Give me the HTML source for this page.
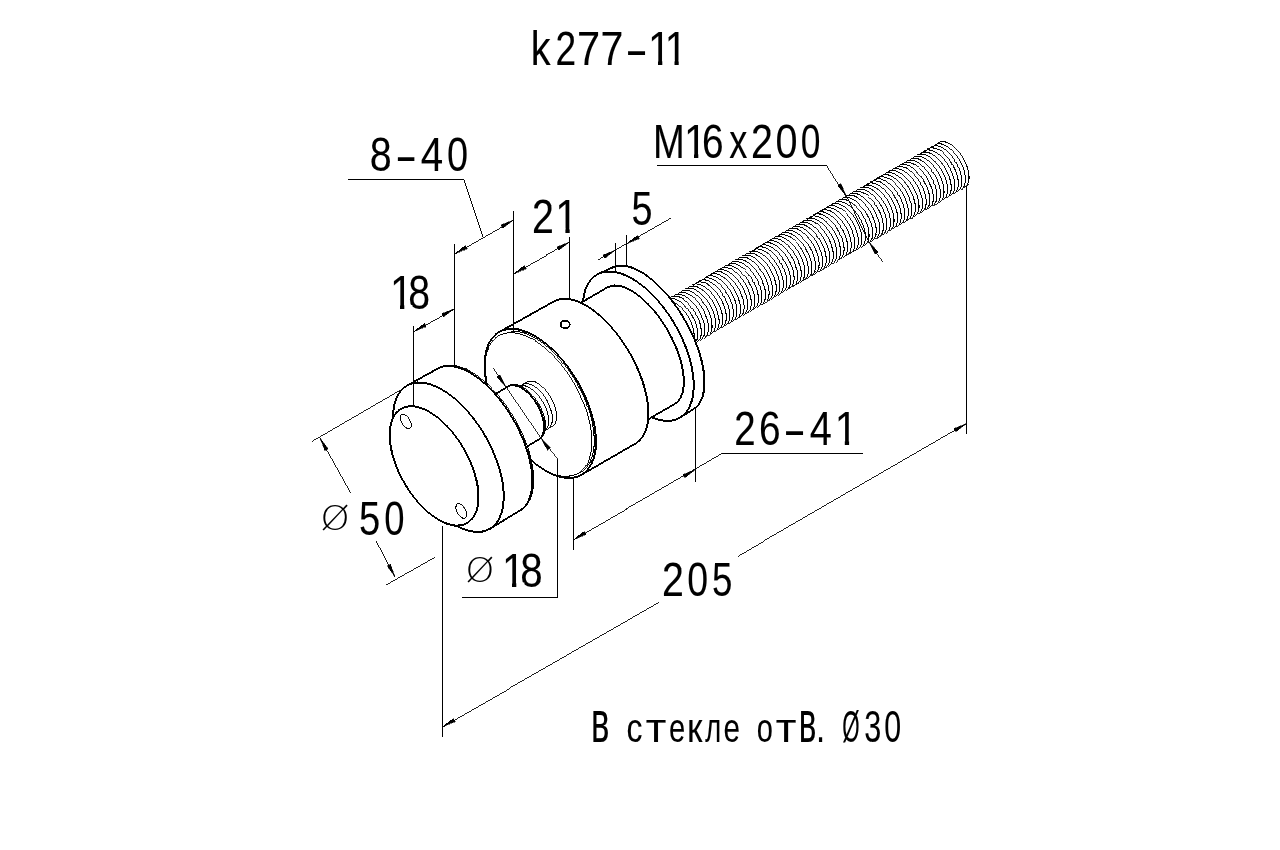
<!DOCTYPE html>
<html lang="ru"><head><meta charset="utf-8"><title>k277-11</title>
<style>
html,body{margin:0;padding:0;background:#fff;}
body{width:1280px;height:850px;overflow:hidden;}
svg{display:block;}
.g path,.g ellipse{shape-rendering:crispEdges;}
text{font-family:"Liberation Sans",sans-serif;fill:#000;stroke:#000;stroke-width:0.1px;white-space:pre;}
.b{font-weight:bold;stroke-width:0;}
.dia{font-family:"DejaVu Sans","Liberation Sans",sans-serif;font-weight:200;stroke:none;}
</style></head>
<body>
<svg width="1280" height="850" viewBox="0 0 1280 850">
<rect width="1280" height="850" fill="#fff"/>
<g class="g" fill="none" stroke="#000" stroke-linecap="butt" stroke-linejoin="miter">
<path d="M665.3 360.5 L964.6 187.5 L965.7 186.7 L966.7 185.6 L967.5 184.3 L968.2 182.8 L968.6 181.1 L968.9 179.2 L969.0 177.2 L968.9 175.1 L968.6 172.8 L968.2 170.4 L967.5 168.0 L966.7 165.6 L965.7 163.1 L964.6 160.7 L963.3 158.3 L961.8 156.0 L960.3 153.8 L958.7 151.7 L957.0 149.8 L955.2 148.0 L953.4 146.4 L951.6 145.0 L949.8 143.9 L948.0 142.9 L946.2 142.3 L944.5 141.8 L942.9 141.6 L941.4 141.7 L939.9 142.0 L938.6 142.6 L639.3 315.4Z" fill="#fff" stroke="none" stroke-width="0" />
<path d="M956.9 149.7 954.2 147.0 M953.4 151.7 950.6 149.1 M949.8 153.8 947.0 151.1 M946.2 155.9 943.4 153.2 M942.6 157.9 939.9 155.2 M939.1 160.0 936.3 157.3 M935.5 162.0 932.7 159.4 M931.9 164.1 929.2 161.4 M928.4 166.2 925.6 163.5 M924.8 168.2 922.0 165.6 M921.2 170.3 918.5 167.6 M917.7 172.4 914.9 169.7 M914.1 174.4 911.3 171.7 M910.5 176.5 907.7 173.8 M906.9 178.5 904.2 175.9 M903.4 180.6 900.6 177.9 M899.8 182.7 897.0 180.0 M896.2 184.7 893.5 182.1 M892.7 186.8 889.9 184.1 M889.1 188.9 886.3 186.2 M885.5 190.9 882.8 188.2 M882.0 193.0 879.2 190.3 M878.4 195.0 875.6 192.4 M874.8 197.1 872.0 194.4 M871.2 199.2 868.5 196.5 M867.7 201.2 864.9 198.6 M864.1 203.3 861.3 200.6 M860.5 205.4 857.8 202.7 M857.0 207.4 854.2 204.7 M853.4 209.5 850.6 206.8 M849.8 211.5 847.1 208.9 M846.3 213.6 843.5 210.9 M842.7 215.7 839.9 213.0 M839.1 217.7 836.3 215.1 M835.5 219.8 832.8 217.1 M832.0 221.9 829.2 219.2 M828.4 223.9 825.6 221.2 M824.8 226.0 822.1 223.3 M821.3 228.0 818.5 225.4 M817.7 230.1 814.9 227.4 M814.1 232.2 811.4 229.5 M810.6 234.2 807.8 231.6 M807.0 236.3 804.2 233.6 M803.4 238.4 800.6 235.7 M799.8 240.4 797.1 237.7 M796.3 242.5 793.5 239.8 M792.7 244.5 789.9 241.9 M789.1 246.6 786.4 243.9 M785.6 248.7 782.8 246.0 M782.0 250.7 779.2 248.1 M778.4 252.8 775.7 250.1 M774.9 254.8 772.1 252.2 M771.3 256.9 768.5 254.2 M767.7 259.0 764.9 256.3 M764.1 261.0 761.4 258.4 M760.6 263.1 757.8 260.4 M757.0 265.2 754.2 262.5 M753.4 267.2 750.7 264.6 M749.9 269.3 747.1 266.6 M746.3 271.3 743.5 268.7 M742.7 273.4 740.0 270.7 M739.2 275.5 736.4 272.8 M735.6 277.5 732.8 274.9 M732.0 279.6 729.2 276.9 M728.4 281.7 725.7 279.0 M724.9 283.7 722.1 281.1 M721.3 285.8 718.5 283.1 M717.7 287.8 715.0 285.2 M714.2 289.9 711.4 287.2 M710.6 292.0 707.8 289.3 M707.0 294.0 704.3 291.4 M703.5 296.1 700.7 293.4 M699.9 298.2 697.1 295.5 M696.3 300.2 693.5 297.6 M692.7 302.3 690.0 299.6 M689.2 304.3 686.4 301.7 M685.6 306.4 682.8 303.7 M682.0 308.5 679.3 305.8 M678.5 310.5 675.7 307.9" stroke-width="0.74"/>
<path d="M965.4 187.0 967.2 185.0 M958.7 151.7 956.1 148.8 M961.8 189.1 963.7 187.0 M955.2 153.8 952.5 150.9 M958.2 191.2 960.1 189.1 M951.6 155.9 948.9 152.9 M954.7 193.2 956.5 191.2 M948.0 157.9 945.4 155.0 M951.1 195.3 952.9 193.2 M944.5 160.0 941.8 157.1 M947.5 197.3 949.4 195.3 M940.9 162.0 938.2 159.1 M944.0 199.4 945.8 197.3 M937.3 164.1 934.7 161.2 M940.4 201.5 942.2 199.4 M933.7 166.2 931.1 163.2 M936.8 203.5 938.7 201.5 M930.2 168.2 927.5 165.3 M933.2 205.6 935.1 203.5 M926.6 170.3 924.0 167.4 M929.7 207.7 931.5 205.6 M923.0 172.4 920.4 169.4 M926.1 209.7 928.0 207.7 M919.5 174.4 916.8 171.5 M922.5 211.8 924.4 209.7 M915.9 176.5 913.2 173.6 M919.0 213.8 920.8 211.8 M912.3 178.5 909.7 175.6 M915.4 215.9 917.2 213.8 M908.8 180.6 906.1 177.7 M911.8 218.0 913.7 215.9 M905.2 182.7 902.5 179.7 M908.3 220.0 910.1 218.0 M901.6 184.7 899.0 181.8 M904.7 222.1 906.5 220.0 M898.0 186.8 895.4 183.9 M901.1 224.2 903.0 222.1 M894.5 188.9 891.8 185.9 M897.5 226.2 899.4 224.2 M890.9 190.9 888.3 188.0 M894.0 228.3 895.8 226.2 M887.3 193.0 884.7 190.1 M890.4 230.3 892.3 228.3 M883.8 195.0 881.1 192.1 M886.8 232.4 888.7 230.3 M880.2 197.1 877.5 194.2 M883.3 234.5 885.1 232.4 M876.6 199.2 874.0 196.2 M879.7 236.5 881.5 234.5 M873.1 201.2 870.4 198.3 M876.1 238.6 878.0 236.5 M869.5 203.3 866.8 200.4 M872.6 240.7 874.4 238.6 M865.9 205.4 863.3 202.4 M869.0 242.7 870.8 240.7 M862.3 207.4 859.7 204.5 M865.4 244.8 867.3 242.7 M858.8 209.5 856.1 206.6 M861.8 246.8 863.7 244.8 M855.2 211.5 852.6 208.6 M858.3 248.9 860.1 246.8 M851.6 213.6 849.0 210.7 M854.7 251.0 856.6 248.9 M848.1 215.7 845.4 212.7 M851.1 253.0 853.0 251.0 M844.5 217.7 841.8 214.8 M847.6 255.1 849.4 253.0 M840.9 219.8 838.3 216.9 M844.0 257.2 845.8 255.1 M837.4 221.9 834.7 218.9 M840.4 259.2 842.3 257.2 M833.8 223.9 831.1 221.0 M836.9 261.3 838.7 259.2 M830.2 226.0 827.6 223.1 M833.3 263.3 835.1 261.3 M826.6 228.0 824.0 225.1 M829.7 265.4 831.6 263.3 M823.1 230.1 820.4 227.2 M826.1 267.5 828.0 265.4 M819.5 232.2 816.9 229.2 M822.6 269.5 824.4 267.5 M815.9 234.2 813.3 231.3 M819.0 271.6 820.9 269.5 M812.4 236.3 809.7 233.4 M815.4 273.7 817.3 271.6 M808.8 238.4 806.1 235.4 M811.9 275.7 813.7 273.7 M805.2 240.4 802.6 237.5 M808.3 277.8 810.1 275.7 M801.7 242.5 799.0 239.6 M804.7 279.8 806.6 277.8 M798.1 244.5 795.4 241.6 M801.2 281.9 803.0 279.8 M794.5 246.6 791.9 243.7 M797.6 284.0 799.4 281.9 M790.9 248.7 788.3 245.7 M794.0 286.0 795.9 284.0 M787.4 250.7 784.7 247.8 M790.4 288.1 792.3 286.0 M783.8 252.8 781.2 249.9 M786.9 290.2 788.7 288.1 M780.2 254.8 777.6 251.9 M783.3 292.2 785.2 290.2 M776.7 256.9 774.0 254.0 M779.7 294.3 781.6 292.2 M773.1 259.0 770.4 256.1 M776.2 296.3 778.0 294.3 M769.5 261.0 766.9 258.1 M772.6 298.4 774.4 296.3 M766.0 263.1 763.3 260.2 M769.0 300.5 770.9 298.4 M762.4 265.2 759.7 262.2 M765.5 302.5 767.3 300.5 M758.8 267.2 756.2 264.3 M761.9 304.6 763.7 302.5 M755.2 269.3 752.6 266.4 M758.3 306.7 760.2 304.6 M751.7 271.3 749.0 268.4 M754.7 308.7 756.6 306.7 M748.1 273.4 745.5 270.5 M751.2 310.8 753.0 308.7 M744.5 275.5 741.9 272.5 M747.6 312.8 749.5 310.8 M741.0 277.5 738.3 274.6 M744.0 314.9 745.9 312.8 M737.4 279.6 734.7 276.7 M740.5 317.0 742.3 314.9 M733.8 281.7 731.2 278.7 M736.9 319.0 738.7 317.0 M730.3 283.7 727.6 280.8 M733.3 321.1 735.2 319.0 M726.7 285.8 724.0 282.9 M729.8 323.1 731.6 321.1 M723.1 287.8 720.5 284.9 M726.2 325.2 728.0 323.2 M719.5 289.9 716.9 287.0 M722.6 327.3 724.5 325.2 M716.0 292.0 713.3 289.0 M719.0 329.3 720.9 327.3 M712.4 294.0 709.8 291.1 M715.5 331.4 717.3 329.3 M708.8 296.1 706.2 293.2 M711.9 333.5 713.8 331.4 M705.3 298.2 702.6 295.2 M708.3 335.5 710.2 333.5 M701.7 300.2 699.0 297.3 M704.8 337.6 706.6 335.5 M698.1 302.3 695.5 299.4 M701.2 339.6 703.0 337.6 M694.6 304.3 691.9 301.4 M697.6 341.7 699.5 339.7 M691.0 306.4 688.3 303.5 M694.1 343.8 695.9 341.7 M687.4 308.5 684.8 305.5 M690.5 345.8 692.3 343.8 M683.8 310.5 681.2 307.6 M686.9 347.9 688.8 345.8 M680.3 312.6 677.6 309.7" stroke-width="0.76"/>
<path d="M955.0 147.8 952.2 145.4 M951.5 149.9 948.6 147.5 M947.9 151.9 945.0 149.5 M944.3 154.0 941.5 151.6 M940.8 156.0 937.9 153.7 M937.2 158.1 934.3 155.7 M933.6 160.2 930.8 157.8 M930.1 162.2 927.2 159.9 M926.5 164.3 923.6 161.9 M922.9 166.4 920.1 164.0 M919.3 168.4 916.5 166.0 M915.8 170.5 912.9 168.1 M912.2 172.5 909.3 170.2 M908.6 174.6 905.8 172.2 M905.1 176.7 902.2 174.3 M901.5 178.7 898.6 176.4 M897.9 180.8 895.1 178.4 M894.4 182.9 891.5 180.5 M890.8 184.9 887.9 182.5 M887.2 187.0 884.4 184.6 M883.6 189.0 880.8 186.7 M880.1 191.1 877.2 188.7 M876.5 193.2 873.6 190.8 M872.9 195.2 870.1 192.9 M869.4 197.3 866.5 194.9 M865.8 199.4 862.9 197.0 M862.2 201.4 859.4 199.0 M858.7 203.5 855.8 201.1 M855.1 205.5 852.2 203.2 M851.5 207.6 848.7 205.2 M847.9 209.7 845.1 207.3 M844.4 211.7 841.5 209.4 M840.8 213.8 837.9 211.4 M837.2 215.9 834.4 213.5 M833.7 217.9 830.8 215.5 M830.1 220.0 827.2 217.6 M826.5 222.0 823.7 219.7 M823.0 224.1 820.1 221.7 M819.4 226.2 816.5 223.8 M815.8 228.2 813.0 225.8 M812.2 230.3 809.4 227.9 M808.7 232.4 805.8 230.0 M805.1 234.4 802.2 232.0 M801.5 236.5 798.7 234.1 M798.0 238.5 795.1 236.2 M794.4 240.6 791.5 238.2 M790.8 242.7 788.0 240.3 M787.3 244.7 784.4 242.3 M783.7 246.8 780.8 244.4 M780.1 248.9 777.3 246.5 M776.5 250.9 773.7 248.5 M773.0 253.0 770.1 250.6 M769.4 255.0 766.5 252.7 M765.8 257.1 763.0 254.7 M762.3 259.2 759.4 256.8 M758.7 261.2 755.8 258.8 M755.1 263.3 752.3 260.9 M751.6 265.4 748.7 263.0 M748.0 267.4 745.1 265.0 M744.4 269.5 741.6 267.1 M740.8 271.5 738.0 269.2 M737.3 273.6 734.4 271.2 M733.7 275.7 730.8 273.3 M730.1 277.7 727.3 275.3 M726.6 279.8 723.7 277.4 M723.0 281.9 720.1 279.5 M719.4 283.9 716.6 281.5 M715.9 286.0 713.0 283.6 M712.3 288.0 709.4 285.7 M708.7 290.1 705.9 287.7 M705.1 292.2 702.3 289.8 M701.6 294.2 698.7 291.8 M698.0 296.3 695.1 293.9 M694.4 298.4 691.6 296.0 M690.9 300.4 688.0 298.0 M687.3 302.5 684.4 300.1 M683.7 304.5 680.9 302.2 M680.2 306.6 677.3 304.2 M676.6 308.7 673.7 306.3" stroke-width="0.79"/>
<path d="M960.5 154.0 958.0 150.8 M956.9 156.0 954.4 152.9 M953.3 158.1 950.8 154.9 M949.8 160.2 947.2 157.0 M946.2 162.2 943.7 159.1 M942.6 164.3 940.1 161.1 M939.0 166.3 936.5 163.2 M935.5 168.4 933.0 165.3 M931.9 170.5 929.4 167.3 M928.3 172.5 925.8 169.4 M924.8 174.6 922.3 171.4 M921.2 176.6 918.7 173.5 M917.6 178.7 915.1 175.6 M914.1 180.8 911.5 177.6 M910.5 182.8 908.0 179.7 M906.9 184.9 904.4 181.8 M903.3 187.0 900.8 183.8 M899.8 189.0 897.3 185.9 M896.2 191.1 893.7 187.9 M892.6 193.1 890.1 190.0 M889.1 195.2 886.6 192.1 M885.5 197.3 883.0 194.1 M881.9 199.3 879.4 196.2 M878.4 201.4 875.8 198.3 M874.8 203.5 872.3 200.3 M871.2 205.5 868.7 202.4 M867.6 207.6 865.1 204.4 M864.1 209.6 861.6 206.5 M860.5 211.7 858.0 208.6 M856.9 213.8 854.4 210.6 M853.4 215.8 850.9 212.7 M849.8 217.9 847.3 214.8 M846.2 220.0 843.7 216.8 M842.7 222.0 840.1 218.9 M839.1 224.1 836.6 220.9 M835.5 226.1 833.0 223.0 M831.9 228.2 829.4 225.1 M828.4 230.3 825.9 227.1 M824.8 232.3 822.3 229.2 M821.2 234.4 818.7 231.2 M817.7 236.5 815.2 233.3 M814.1 238.5 811.6 235.4 M810.5 240.6 808.0 237.4 M807.0 242.6 804.4 239.5 M803.4 244.7 800.9 241.6 M799.8 246.8 797.3 243.6 M796.2 248.8 793.7 245.7 M792.7 250.9 790.2 247.7 M789.1 253.0 786.6 249.8 M785.5 255.0 783.0 251.9 M782.0 257.1 779.5 253.9 M778.4 259.1 775.9 256.0 M774.8 261.2 772.3 258.1 M771.3 263.3 768.7 260.1 M767.7 265.3 765.2 262.2 M764.1 267.4 761.6 264.2 M760.5 269.5 758.0 266.3 M757.0 271.5 754.5 268.4 M753.4 273.6 750.9 270.4 M749.8 275.6 747.3 272.5 M746.3 277.7 743.8 274.6 M742.7 279.8 740.2 276.6 M739.1 281.8 736.6 278.7 M735.6 283.9 733.0 280.7 M732.0 286.0 729.5 282.8 M728.4 288.0 725.9 284.9 M724.8 290.1 722.3 286.9 M721.3 292.1 718.8 289.0 M717.7 294.2 715.2 291.1 M714.1 296.3 711.6 293.1 M710.6 298.3 708.1 295.2 M707.0 300.4 704.5 297.2 M703.4 302.5 700.9 299.3 M699.9 304.5 697.3 301.4 M696.3 306.6 693.8 303.4 M692.7 308.6 690.2 305.5 M689.1 310.7 686.6 307.6 M685.6 312.8 683.1 309.6 M682.0 314.8 679.5 311.7" stroke-width="0.8"/>
<path d="M964.1 187.8 966.3 186.2 M960.5 189.9 962.7 188.3 M956.9 192.0 959.1 190.4 M953.4 194.0 955.5 192.4 M949.8 196.1 952.0 194.5 M946.2 198.1 948.4 196.5 M942.6 200.2 944.8 198.6 M939.1 202.3 941.3 200.7 M935.5 204.3 937.7 202.7 M931.9 206.4 934.1 204.8 M928.4 208.5 930.6 206.9 M924.8 210.5 927.0 208.9 M921.2 212.6 923.4 211.0 M917.7 214.6 919.8 213.0 M914.1 216.7 916.3 215.1 M910.5 218.8 912.7 217.2 M906.9 220.8 909.1 219.2 M903.4 222.9 905.6 221.3 M899.8 225.0 902.0 223.4 M896.2 227.0 898.4 225.4 M892.7 229.1 894.9 227.5 M889.1 231.1 891.3 229.5 M885.5 233.2 887.7 231.6 M882.0 235.3 884.1 233.7 M878.4 237.3 880.6 235.7 M874.8 239.4 877.0 237.8 M871.2 241.5 873.4 239.9 M867.7 243.5 869.9 241.9 M864.1 245.6 866.3 244.0 M860.5 247.6 862.7 246.0 M857.0 249.7 859.2 248.1 M853.4 251.8 855.6 250.2 M849.8 253.8 852.0 252.2 M846.3 255.9 848.4 254.3 M842.7 258.0 844.9 256.4 M839.1 260.0 841.3 258.4 M835.5 262.1 837.7 260.5 M832.0 264.1 834.2 262.5 M828.4 266.2 830.6 264.6 M824.8 268.3 827.0 266.7 M821.3 270.3 823.5 268.7 M817.7 272.4 819.9 270.8 M814.1 274.5 816.3 272.9 M810.6 276.5 812.7 274.9 M807.0 278.6 809.2 277.0 M803.4 280.6 805.6 279.0 M799.8 282.7 802.0 281.1 M796.3 284.8 798.5 283.2 M792.7 286.8 794.9 285.2 M789.1 288.9 791.3 287.3 M785.6 291.0 787.8 289.4 M782.0 293.0 784.2 291.4 M778.4 295.1 780.6 293.5 M774.9 297.1 777.0 295.5 M771.3 299.2 773.5 297.6 M767.7 301.3 769.9 299.7 M764.1 303.3 766.3 301.7 M760.6 305.4 762.8 303.8 M757.0 307.5 759.2 305.8 M753.4 309.5 755.6 307.9 M749.9 311.6 752.1 310.0 M746.3 313.6 748.5 312.0 M742.7 315.7 744.9 314.1 M739.2 317.8 741.3 316.2 M735.6 319.8 737.8 318.2 M732.0 321.9 734.2 320.3 M728.4 324.0 730.6 322.3 M724.9 326.0 727.1 324.4 M721.3 328.1 723.5 326.5 M717.7 330.1 719.9 328.5 M714.2 332.2 716.4 330.6 M710.6 334.3 712.8 332.7 M707.0 336.3 709.2 334.7 M703.5 338.4 705.6 336.8 M699.9 340.5 702.1 338.8 M696.3 342.5 698.5 340.9 M692.7 344.6 694.9 343.0 M689.2 346.6 691.4 345.0 M685.6 348.7 687.8 347.1" stroke-width="0.83"/>
<path d="M962.1 156.3 959.7 153.0 M953.1 146.1 950.2 144.1 M958.5 158.4 956.2 155.1 M949.6 148.2 946.6 146.1 M954.9 160.5 952.6 157.1 M946.0 150.3 943.1 148.2 M951.4 162.5 949.0 159.2 M942.4 152.3 939.5 150.3 M947.8 164.6 945.5 161.3 M938.9 154.4 935.9 152.3 M944.2 166.7 941.9 163.3 M935.3 156.5 932.3 154.4 M940.7 168.7 938.3 165.4 M931.7 158.5 928.8 156.5 M937.1 170.8 934.8 167.4 M928.1 160.6 925.2 158.5 M933.5 172.8 931.2 169.5 M924.6 162.6 921.6 160.6 M930.0 174.9 927.6 171.6 M921.0 164.7 918.1 162.6 M926.4 177.0 924.0 173.6 M917.4 166.8 914.5 164.7 M922.8 179.0 920.5 175.7 M913.9 168.8 910.9 166.8 M919.2 181.1 916.9 177.8 M910.3 170.9 907.4 168.8 M915.7 183.1 913.3 179.8 M906.7 173.0 903.8 170.9 M912.1 185.2 909.8 181.9 M903.2 175.0 900.2 173.0 M908.5 187.3 906.2 183.9 M899.6 177.1 896.6 175.0 M905.0 189.3 902.6 186.0 M896.0 179.1 893.1 177.1 M901.4 191.4 899.1 188.1 M892.4 181.2 889.5 179.1 M897.8 193.5 895.5 190.1 M888.9 183.3 885.9 181.2 M894.3 195.5 891.9 192.2 M885.3 185.3 882.4 183.3 M890.7 197.6 888.3 194.3 M881.7 187.4 878.8 185.3 M887.1 199.6 884.8 196.3 M878.2 189.5 875.2 187.4 M883.5 201.7 881.2 198.4 M874.6 191.5 871.7 189.5 M880.0 203.8 877.6 200.4 M871.0 193.6 868.1 191.5 M876.4 205.8 874.1 202.5 M867.5 195.6 864.5 193.6 M872.8 207.9 870.5 204.6 M863.9 197.7 860.9 195.6 M869.3 210.0 866.9 206.6 M860.3 199.8 857.4 197.7 M865.7 212.0 863.4 208.7 M856.7 201.8 853.8 199.8 M862.1 214.1 859.8 210.7 M853.2 203.9 850.2 201.8 M858.6 216.1 856.2 212.8 M849.6 206.0 846.7 203.9 M855.0 218.2 852.6 214.9 M846.0 208.0 843.1 206.0 M851.4 220.3 849.1 216.9 M842.5 210.1 839.5 208.0 M847.8 222.3 845.5 219.0 M838.9 212.1 836.0 210.1 M844.3 224.4 841.9 221.1 M835.3 214.2 832.4 212.1 M840.7 226.5 838.4 223.1 M831.8 216.3 828.8 214.2 M837.1 228.5 834.8 225.2 M828.2 218.3 825.2 216.3 M833.6 230.6 831.2 227.2 M824.6 220.4 821.7 218.3 M830.0 232.6 827.7 229.3 M821.0 222.5 818.1 220.4 M826.4 234.7 824.1 231.4 M817.5 224.5 814.5 222.5 M822.9 236.8 820.5 233.4 M813.9 226.6 811.0 224.5 M819.3 238.8 816.9 235.5 M810.3 228.6 807.4 226.6 M815.7 240.9 813.4 237.6 M806.8 230.7 803.8 228.6 M812.1 243.0 809.8 239.6 M803.2 232.8 800.3 230.7 M808.6 245.0 806.2 241.7 M799.6 234.8 796.7 232.8 M805.0 247.1 802.7 243.7 M796.1 236.9 793.1 234.8 M801.4 249.1 799.1 245.8 M792.5 239.0 789.5 236.9 M797.9 251.2 795.5 247.9 M788.9 241.0 786.0 239.0 M794.3 253.3 792.0 249.9 M785.3 243.1 782.4 241.0 M790.7 255.3 788.4 252.0 M781.8 245.1 778.8 243.1 M787.2 257.4 784.8 254.1 M778.2 247.2 775.3 245.1 M783.6 259.5 781.2 256.1 M774.6 249.3 771.7 247.2 M780.0 261.5 777.7 258.2 M771.1 251.3 768.1 249.3 M776.4 263.6 774.1 260.2 M767.5 253.4 764.6 251.3 M772.9 265.6 770.5 262.3 M763.9 255.5 761.0 253.4 M769.3 267.7 767.0 264.4 M760.4 257.5 757.4 255.5 M765.7 269.8 763.4 266.4 M756.8 259.6 753.8 257.5 M762.2 271.8 759.8 268.5 M753.2 261.6 750.3 259.6 M758.6 273.9 756.3 270.6 M749.6 263.7 746.7 261.6 M755.0 276.0 752.7 272.6 M746.1 265.8 743.1 263.7 M751.5 278.0 749.1 274.7 M742.5 267.8 739.6 265.8 M747.9 280.1 745.5 276.7 M738.9 269.9 736.0 267.8 M744.3 282.1 742.0 278.8 M735.4 272.0 732.4 269.9 M740.7 284.2 738.4 280.9 M731.8 274.0 728.9 272.0 M737.2 286.3 734.8 282.9 M728.2 276.1 725.3 274.0 M733.6 288.3 731.3 285.0 M724.7 278.1 721.7 276.1 M730.0 290.4 727.7 287.1 M721.1 280.2 718.1 278.1 M726.5 292.5 724.1 289.1 M717.5 282.3 714.6 280.2 M722.9 294.5 720.6 291.2 M713.9 284.3 711.0 282.3 M719.3 296.6 717.0 293.2 M710.4 286.4 707.4 284.3 M715.8 298.6 713.4 295.3 M706.8 288.4 703.9 286.4 M712.2 300.7 709.8 297.4 M703.2 290.5 700.3 288.5 M708.6 302.8 706.3 299.4 M699.7 292.6 696.7 290.5 M705.0 304.8 702.7 301.5 M696.1 294.6 693.2 292.6 M701.5 306.9 699.1 303.6 M692.5 296.7 689.6 294.6 M697.9 309.0 695.6 305.6 M689.0 298.8 686.0 296.7 M694.3 311.0 692.0 307.7 M685.4 300.8 682.4 298.8 M690.8 313.1 688.4 309.7 M681.8 302.9 678.9 300.8 M687.2 315.1 684.9 311.8 M678.2 304.9 675.3 302.9 M683.6 317.2 681.3 313.9 M674.7 307.0 671.7 304.9" stroke-width="0.84"/>
<path d="M963.6 158.8 961.4 155.3 M960.0 160.9 957.9 157.4 M956.4 163.0 954.3 159.5 M952.9 165.0 950.7 161.5 M949.3 167.1 947.1 163.6 M945.7 169.1 943.6 165.6 M942.2 171.2 940.0 167.7 M938.6 173.3 936.4 169.8 M935.0 175.3 932.9 171.8 M931.4 177.4 929.3 173.9 M927.9 179.5 925.7 176.0 M924.3 181.5 922.2 178.0 M920.7 183.6 918.6 180.1 M917.2 185.6 915.0 182.1 M913.6 187.7 911.4 184.2 M910.0 189.8 907.9 186.3 M906.5 191.8 904.3 188.3 M902.9 193.9 900.7 190.4 M899.3 195.9 897.2 192.5 M895.7 198.0 893.6 194.5 M892.2 200.1 890.0 196.6 M888.6 202.1 886.5 198.6 M885.0 204.2 882.9 200.7 M881.5 206.3 879.3 202.8 M877.9 208.3 875.7 204.8 M874.3 210.4 872.2 206.9 M870.8 212.4 868.6 209.0 M867.2 214.5 865.0 211.0 M863.6 216.6 861.5 213.1 M860.0 218.6 857.9 215.1 M856.5 220.7 854.3 217.2 M852.9 222.8 850.8 219.3 M849.3 224.8 847.2 221.3 M845.8 226.9 843.6 223.4 M842.2 228.9 840.0 225.5 M838.6 231.0 836.5 227.5 M835.1 233.1 832.9 229.6 M831.5 235.1 829.3 231.6 M827.9 237.2 825.8 233.7 M824.3 239.3 822.2 235.8 M820.8 241.3 818.6 237.8 M817.2 243.4 815.1 239.9 M813.6 245.4 811.5 242.0 M810.1 247.5 807.9 244.0 M806.5 249.6 804.3 246.1 M802.9 251.6 800.8 248.1 M799.4 253.7 797.2 250.2 M795.8 255.8 793.6 252.3 M792.2 257.8 790.1 254.3 M788.6 259.9 786.5 256.4 M785.1 261.9 782.9 258.5 M781.5 264.0 779.4 260.5 M777.9 266.1 775.8 262.6 M774.4 268.1 772.2 264.6 M770.8 270.2 768.6 266.7 M767.2 272.3 765.1 268.8 M763.7 274.3 761.5 270.8 M760.1 276.4 757.9 272.9 M756.5 278.4 754.4 275.0 M752.9 280.5 750.8 277.0 M749.4 282.6 747.2 279.1 M745.8 284.6 743.7 281.1 M742.2 286.7 740.1 283.2 M738.7 288.8 736.5 285.3 M735.1 290.8 732.9 287.3 M731.5 292.9 729.4 289.4 M728.0 294.9 725.8 291.5 M724.4 297.0 722.2 293.5 M720.8 299.1 718.7 295.6 M717.2 301.1 715.1 297.6 M713.7 303.2 711.5 299.7 M710.1 305.3 708.0 301.8 M706.5 307.3 704.4 303.8 M703.0 309.4 700.8 305.9 M699.4 311.4 697.2 308.0 M695.8 313.5 693.7 310.0 M692.3 315.6 690.1 312.1 M688.7 317.6 686.5 314.1 M685.1 319.7 683.0 316.2" stroke-width="0.87"/>
<path d="M966.5 185.9 968.0 183.5 M962.9 188.0 964.4 185.5 M959.4 190.1 960.8 187.6 M955.8 192.1 957.3 189.7 M952.2 194.2 953.7 191.7 M948.7 196.2 950.1 193.8 M945.1 198.3 946.6 195.9 M941.5 200.4 943.0 197.9 M938.0 202.4 939.4 200.0 M934.4 204.5 935.9 202.0 M930.8 206.6 932.3 204.1 M927.2 208.6 928.7 206.2 M923.7 210.7 925.1 208.2 M920.1 212.7 921.6 210.3 M916.5 214.8 918.0 212.4 M913.0 216.9 914.4 214.4 M909.4 218.9 910.9 216.5 M905.8 221.0 907.3 218.5 M902.3 223.1 903.7 220.6 M898.7 225.1 900.2 222.7 M895.1 227.2 896.6 224.7 M891.5 229.2 893.0 226.8 M888.0 231.3 889.4 228.9 M884.4 233.4 885.9 230.9 M880.8 235.4 882.3 233.0 M877.3 237.5 878.7 235.0 M873.7 239.6 875.2 237.1 M870.1 241.6 871.6 239.2 M866.6 243.7 868.0 241.2 M863.0 245.7 864.5 243.3 M859.4 247.8 860.9 245.4 M855.8 249.9 857.3 247.4 M852.3 251.9 853.7 249.5 M848.7 254.0 850.2 251.5 M845.1 256.1 846.6 253.6 M841.6 258.1 843.0 255.7 M838.0 260.2 839.5 257.7 M834.4 262.2 835.9 259.8 M830.9 264.3 832.3 261.9 M827.3 266.4 828.8 263.9 M823.7 268.4 825.2 266.0 M820.1 270.5 821.6 268.0 M816.6 272.6 818.0 270.1 M813.0 274.6 814.5 272.2 M809.4 276.7 810.9 274.2 M805.9 278.7 807.3 276.3 M802.3 280.8 803.8 278.4 M798.7 282.9 800.2 280.4 M795.2 284.9 796.6 282.5 M791.6 287.0 793.1 284.5 M788.0 289.1 789.5 286.6 M784.4 291.1 785.9 288.7 M780.9 293.2 782.3 290.7 M777.3 295.2 778.8 292.8 M773.7 297.3 775.2 294.9 M770.2 299.4 771.6 296.9 M766.6 301.4 768.1 299.0 M763.0 303.5 764.5 301.0 M759.5 305.6 760.9 303.1 M755.9 307.6 757.4 305.2 M752.3 309.7 753.8 307.2 M748.7 311.7 750.2 309.3 M745.2 313.8 746.6 311.4 M741.6 315.9 743.1 313.4 M738.0 317.9 739.5 315.5 M734.5 320.0 735.9 317.5 M730.9 322.1 732.4 319.6 M727.3 324.1 728.8 321.7 M723.8 326.2 725.2 323.7 M720.2 328.2 721.7 325.8 M716.6 330.3 718.1 327.9 M713.0 332.4 714.5 329.9 M709.5 334.4 710.9 332.0 M705.9 336.5 707.4 334.0 M702.3 338.6 703.8 336.1 M698.8 340.6 700.2 338.2 M695.2 342.7 696.7 340.2 M691.6 344.7 693.1 342.3 M688.1 346.8 689.5 344.3" stroke-width="0.88"/>
<path d="M951.2 144.7 948.2 143.0 M947.6 146.8 944.7 145.1 M944.1 148.9 941.1 147.1 M940.5 150.9 937.5 149.2 M936.9 153.0 933.9 151.3 M933.4 155.0 930.4 153.3 M929.8 157.1 926.8 155.4 M926.2 159.2 923.2 157.5 M922.7 161.2 919.7 159.5 M919.1 163.3 916.1 161.6 M915.5 165.4 912.5 163.6 M911.9 167.4 909.0 165.7 M908.4 169.5 905.4 167.8 M904.8 171.5 901.8 169.8 M901.2 173.6 898.2 171.9 M897.7 175.7 894.7 174.0 M894.1 177.7 891.1 176.0 M890.5 179.8 887.5 178.1 M887.0 181.8 884.0 180.1 M883.4 183.9 880.4 182.2 M879.8 186.0 876.8 184.3 M876.2 188.0 873.3 186.3 M872.7 190.1 869.7 188.4 M869.1 192.2 866.1 190.5 M865.5 194.2 862.5 192.5 M862.0 196.3 859.0 194.6 M858.4 198.3 855.4 196.6 M854.8 200.4 851.8 198.7 M851.3 202.5 848.3 200.8 M847.7 204.5 844.7 202.8 M844.1 206.6 841.1 204.9 M840.5 208.7 837.6 207.0 M837.0 210.7 834.0 209.0 M833.4 212.8 830.4 211.1 M829.8 214.8 826.8 213.1 M826.3 216.9 823.3 215.2 M822.7 219.0 819.7 217.3 M819.1 221.0 816.1 219.3 M815.6 223.1 812.6 221.4 M812.0 225.2 809.0 223.4 M808.4 227.2 805.4 225.5 M804.8 229.3 801.9 227.6 M801.3 231.3 798.3 229.6 M797.7 233.4 794.7 231.7 M794.1 235.5 791.1 233.8 M790.6 237.5 787.6 235.8 M787.0 239.6 784.0 237.9 M783.4 241.7 780.4 239.9 M779.9 243.7 776.9 242.0 M776.3 245.8 773.3 244.1 M772.7 247.8 769.7 246.1 M769.1 249.9 766.2 248.2 M765.6 252.0 762.6 250.3 M762.0 254.0 759.0 252.3 M758.4 256.1 755.4 254.4 M754.9 258.2 751.9 256.4 M751.3 260.2 748.3 258.5 M747.7 262.3 744.7 260.6 M744.2 264.3 741.2 262.6 M740.6 266.4 737.6 264.7 M737.0 268.5 734.0 266.8 M733.4 270.5 730.5 268.8 M729.9 272.6 726.9 270.9 M726.3 274.7 723.3 272.9 M722.7 276.7 719.7 275.0 M719.2 278.8 716.2 277.1 M715.6 280.8 712.6 279.1 M712.0 282.9 709.0 281.2 M708.5 285.0 705.5 283.3 M704.9 287.0 701.9 285.3 M701.3 289.1 698.3 287.4 M697.7 291.2 694.8 289.4 M694.2 293.2 691.2 291.5 M690.6 295.3 687.6 293.6 M687.0 297.3 684.0 295.6 M683.5 299.4 680.5 297.7 M679.9 301.5 676.9 299.8 M676.3 303.5 673.3 301.8 M672.8 305.6 669.8 303.9" stroke-width="0.89"/>
<path d="M964.9 161.4 963.0 157.8 M961.4 163.5 959.4 159.9 M957.8 165.5 955.8 161.9 M954.2 167.6 952.3 164.0 M950.6 169.6 948.7 166.0 M947.1 171.7 945.1 168.1 M943.5 173.8 941.6 170.2 M939.9 175.8 938.0 172.2 M936.4 177.9 934.4 174.3 M932.8 180.0 930.8 176.3 M929.2 182.0 927.3 178.4 M925.7 184.1 923.7 180.5 M922.1 186.1 920.1 182.5 M918.5 188.2 916.6 184.6 M914.9 190.3 913.0 186.7 M911.4 192.3 909.4 188.7 M907.8 194.4 905.9 190.8 M904.2 196.5 902.3 192.8 M900.7 198.5 898.7 194.9 M897.1 200.6 895.1 197.0 M893.5 202.6 891.6 199.0 M890.0 204.7 888.0 201.1 M886.4 206.8 884.4 203.2 M882.8 208.8 880.9 205.2 M879.2 210.9 877.3 207.3 M875.7 213.0 873.7 209.3 M872.1 215.0 870.2 211.4 M868.5 217.1 866.6 213.5 M865.0 219.1 863.0 215.5 M861.4 221.2 859.4 217.6 M857.8 223.3 855.9 219.7 M854.3 225.3 852.3 221.7 M850.7 227.4 848.7 223.8 M847.1 229.5 845.2 225.8 M843.5 231.5 841.6 227.9 M840.0 233.6 838.0 230.0 M836.4 235.6 834.5 232.0 M832.8 237.7 830.9 234.1 M829.3 239.8 827.3 236.2 M825.7 241.8 823.7 238.2 M822.1 243.9 820.2 240.3 M818.6 246.0 816.6 242.3 M815.0 248.0 813.0 244.4 M811.4 250.1 809.5 246.5 M807.8 252.1 805.9 248.5 M804.3 254.2 802.3 250.6 M800.7 256.3 798.8 252.7 M797.1 258.3 795.2 254.7 M793.6 260.4 791.6 256.8 M790.0 262.5 788.0 258.8 M786.4 264.5 784.5 260.9 M782.9 266.6 780.9 263.0 M779.3 268.6 777.3 265.0 M775.7 270.7 773.8 267.1 M772.1 272.8 770.2 269.2 M768.6 274.8 766.6 271.2 M765.0 276.9 763.1 273.3 M761.4 279.0 759.5 275.3 M757.9 281.0 755.9 277.4 M754.3 283.1 752.3 279.5 M750.7 285.1 748.8 281.5 M747.2 287.2 745.2 283.6 M743.6 289.3 741.6 285.7 M740.0 291.3 738.1 287.7 M736.4 293.4 734.5 289.8 M732.9 295.5 730.9 291.8 M729.3 297.5 727.4 293.9 M725.7 299.6 723.8 296.0 M722.2 301.6 720.2 298.0 M718.6 303.7 716.6 300.1 M715.0 305.8 713.1 302.2 M711.5 307.8 709.5 304.2 M707.9 309.9 705.9 306.3 M704.3 312.0 702.4 308.3 M700.7 314.0 698.8 310.4 M697.2 316.1 695.2 312.5 M693.6 318.1 691.7 314.5 M690.0 320.2 688.1 316.6 M686.5 322.3 684.5 318.7" stroke-width="0.9"/>
<path d="M966.1 164.0 964.4 160.3 M940.6 141.8 938.1 142.9 M962.5 166.1 960.8 162.4 M937.0 143.8 934.5 144.9 M959.0 168.1 957.2 164.5 M933.4 145.9 931.0 147.0 M955.4 170.2 953.7 166.5 M929.9 148.0 927.4 149.0 M951.8 172.3 950.1 168.6 M926.3 150.0 923.8 151.1 M948.3 174.3 946.5 170.6 M922.7 152.1 920.3 153.2 M944.7 176.4 943.0 172.7 M919.2 154.1 916.7 155.2 M941.1 178.5 939.4 174.8 M915.6 156.2 913.1 157.3 M937.5 180.5 935.8 176.8 M912.0 158.3 909.5 159.4 M934.0 182.6 932.3 178.9 M908.5 160.3 906.0 161.4 M930.4 184.6 928.7 180.9 M904.9 162.4 902.4 163.5 M926.8 186.7 925.1 183.0 M901.3 164.5 898.8 165.5 M923.3 188.8 921.5 185.1 M897.7 166.5 895.3 167.6 M919.7 190.8 918.0 187.1 M894.2 168.6 891.7 169.7 M916.1 192.9 914.4 189.2 M890.6 170.6 888.1 171.7 M912.6 195.0 910.8 191.3 M887.0 172.7 884.6 173.8 M909.0 197.0 907.3 193.3 M883.5 174.8 881.0 175.9 M905.4 199.1 903.7 195.4 M879.9 176.8 877.4 177.9 M901.8 201.1 900.1 197.4 M876.3 178.9 873.8 180.0 M898.3 203.2 896.6 199.5 M872.8 180.9 870.3 182.0 M894.7 205.3 893.0 201.6 M869.2 183.0 866.7 184.1 M891.1 207.3 889.4 203.6 M865.6 185.1 863.1 186.2 M887.6 209.4 885.8 205.7 M862.0 187.1 859.6 188.2 M884.0 211.5 882.3 207.8 M858.5 189.2 856.0 190.3 M880.4 213.5 878.7 209.8 M854.9 191.3 852.4 192.4 M876.9 215.6 875.1 211.9 M851.3 193.3 848.9 194.4 M873.3 217.6 871.6 213.9 M847.8 195.4 845.3 196.5 M869.7 219.7 868.0 216.0 M844.2 197.4 841.7 198.5 M866.1 221.8 864.4 218.1 M840.6 199.5 838.1 200.6 M862.6 223.8 860.9 220.1 M837.1 201.6 834.6 202.7 M859.0 225.9 857.3 222.2 M833.5 203.6 831.0 204.7 M855.4 228.0 853.7 224.3 M829.9 205.7 827.4 206.8 M851.9 230.0 850.1 226.3 M826.3 207.8 823.9 208.9 M848.3 232.1 846.6 228.4 M822.8 209.8 820.3 210.9 M844.7 234.1 843.0 230.4 M819.2 211.9 816.7 213.0 M841.2 236.2 839.4 232.5 M815.6 213.9 813.2 215.0 M837.6 238.3 835.9 234.6 M812.1 216.0 809.6 217.1 M834.0 240.3 832.3 236.6 M808.5 218.1 806.0 219.2 M830.4 242.4 828.7 238.7 M804.9 220.1 802.4 221.2 M826.9 244.5 825.2 240.8 M801.4 222.2 798.9 223.3 M823.3 246.5 821.6 242.8 M797.8 224.3 795.3 225.4 M819.7 248.6 818.0 244.9 M794.2 226.3 791.7 227.4 M816.2 250.6 814.4 246.9 M790.6 228.4 788.2 229.5 M812.6 252.7 810.9 249.0 M787.1 230.4 784.6 231.5 M809.0 254.8 807.3 251.1 M783.5 232.5 781.0 233.6 M805.5 256.8 803.7 253.1 M779.9 234.6 777.5 235.7 M801.9 258.9 800.2 255.2 M776.4 236.6 773.9 237.7 M798.3 261.0 796.6 257.3 M772.8 238.7 770.3 239.8 M794.7 263.0 793.0 259.3 M769.2 240.8 766.7 241.9 M791.2 265.1 789.5 261.4 M765.7 242.8 763.2 243.9 M787.6 267.1 785.9 263.4 M762.1 244.9 759.6 246.0 M784.0 269.2 782.3 265.5 M758.5 246.9 756.0 248.0 M780.5 271.3 778.7 267.6 M754.9 249.0 752.5 250.1 M776.9 273.3 775.2 269.6 M751.4 251.1 748.9 252.2 M773.3 275.4 771.6 271.7 M747.8 253.1 745.3 254.2 M769.8 277.5 768.0 273.8 M744.2 255.2 741.8 256.3 M766.2 279.5 764.5 275.8 M740.7 257.3 738.2 258.4 M762.6 281.6 760.9 277.9 M737.1 259.3 734.6 260.4 M759.0 283.6 757.3 279.9 M733.5 261.4 731.0 262.5 M755.5 285.7 753.8 282.0 M730.0 263.4 727.5 264.5 M751.9 287.8 750.2 284.1 M726.4 265.5 723.9 266.6 M748.3 289.8 746.6 286.1 M722.8 267.6 720.3 268.7 M744.8 291.9 743.0 288.2 M719.2 269.6 716.8 270.7 M741.2 294.0 739.5 290.3 M715.7 271.7 713.2 272.8 M737.6 296.0 735.9 292.3 M712.1 273.8 709.6 274.9 M734.1 298.1 732.3 294.4 M708.5 275.8 706.1 276.9 M730.5 300.1 728.8 296.4 M705.0 277.9 702.5 279.0 M726.9 302.2 725.2 298.5 M701.4 279.9 698.9 281.0 M723.3 304.3 721.6 300.6 M697.8 282.0 695.3 283.1 M719.8 306.3 718.1 302.6 M694.3 284.1 691.8 285.2 M716.2 308.4 714.5 304.7 M690.7 286.1 688.2 287.2 M712.6 310.4 710.9 306.8 M687.1 288.2 684.6 289.3 M709.1 312.5 707.3 308.8 M683.5 290.3 681.1 291.4 M705.5 314.6 703.8 310.9 M680.0 292.3 677.5 293.4 M701.9 316.6 700.2 312.9 M676.4 294.4 673.9 295.5 M698.4 318.7 696.6 315.0 M672.8 296.4 670.4 297.5 M694.8 320.8 693.1 317.1 M669.3 298.5 666.8 299.6 M691.2 322.8 689.5 319.1 M665.7 300.6 663.2 301.7 M687.6 324.9 685.9 321.2 M662.1 302.6 659.6 303.7" stroke-width="0.93"/>
<path d="M949.3 143.6 946.3 142.2 M945.7 145.6 942.7 144.3 M942.2 147.7 939.2 146.4 M938.6 149.7 935.6 148.4 M935.0 151.8 932.0 150.5 M931.4 153.9 928.4 152.5 M927.9 155.9 924.9 154.6 M924.3 158.0 921.3 156.7 M920.7 160.1 917.7 158.7 M917.2 162.1 914.2 160.8 M913.6 164.2 910.6 162.9 M910.0 166.2 907.0 164.9 M906.5 168.3 903.5 167.0 M902.9 170.4 899.9 169.0 M899.3 172.4 896.3 171.1 M895.7 174.5 892.7 173.2 M892.2 176.6 889.2 175.2 M888.6 178.6 885.6 177.3 M885.0 180.7 882.0 179.4 M881.5 182.7 878.5 181.4 M877.9 184.8 874.9 183.5 M874.3 186.9 871.3 185.5 M870.8 188.9 867.8 187.6 M867.2 191.0 864.2 189.7 M863.6 193.1 860.6 191.7 M860.0 195.1 857.0 193.8 M856.5 197.2 853.5 195.9 M852.9 199.2 849.9 197.9 M849.3 201.3 846.3 200.0 M845.8 203.4 842.8 202.0 M842.2 205.4 839.2 204.1 M838.6 207.5 835.6 206.2 M835.1 209.6 832.1 208.2 M831.5 211.6 828.5 210.3 M827.9 213.7 824.9 212.4 M824.3 215.7 821.3 214.4 M820.8 217.8 817.8 216.5 M817.2 219.9 814.2 218.5 M813.6 221.9 810.6 220.6 M810.1 224.0 807.1 222.7 M806.5 226.1 803.5 224.7 M802.9 228.1 799.9 226.8 M799.4 230.2 796.4 228.9 M795.8 232.2 792.8 230.9 M792.2 234.3 789.2 233.0 M788.6 236.4 785.6 235.0 M785.1 238.4 782.1 237.1 M781.5 240.5 778.5 239.2 M777.9 242.6 774.9 241.2 M774.4 244.6 771.4 243.3 M770.8 246.7 767.8 245.4 M767.2 248.7 764.2 247.4 M763.7 250.8 760.7 249.5 M760.1 252.9 757.1 251.5 M756.5 254.9 753.5 253.6 M752.9 257.0 749.9 255.7 M749.4 259.1 746.4 257.7 M745.8 261.1 742.8 259.8 M742.2 263.2 739.2 261.9 M738.7 265.2 735.7 263.9 M735.1 267.3 732.1 266.0 M731.5 269.4 728.5 268.0 M728.0 271.4 725.0 270.1 M724.4 273.5 721.4 272.2 M720.8 275.5 717.8 274.2 M717.2 277.6 714.2 276.3 M713.7 279.7 710.7 278.4 M710.1 281.7 707.1 280.4 M706.5 283.8 703.5 282.5 M703.0 285.9 700.0 284.5 M699.4 287.9 696.4 286.6 M695.8 290.0 692.8 288.7 M692.3 292.0 689.3 290.7 M688.7 294.1 685.7 292.8 M685.1 296.2 682.1 294.9 M681.5 298.2 678.5 296.9 M678.0 300.3 675.0 299.0 M674.4 302.4 671.4 301.0 M670.8 304.4 667.8 303.1" stroke-width="0.94"/>
<path d="M967.5 184.6 968.5 181.8 M967.1 166.7 965.6 162.9 M963.9 186.6 965.0 183.8 M963.5 168.7 962.1 165.0 M960.3 188.7 961.4 185.9 M960.0 170.8 958.5 167.0 M956.7 190.7 957.8 188.0 M956.4 172.8 954.9 169.1 M953.2 192.8 954.3 190.0 M952.8 174.9 951.4 171.2 M949.6 194.9 950.7 192.1 M949.3 177.0 947.8 173.2 M946.0 196.9 947.1 194.2 M945.7 179.0 944.2 175.3 M942.5 199.0 943.6 196.2 M942.1 181.1 940.6 177.4 M938.9 201.1 940.0 198.3 M938.5 183.2 937.1 179.4 M935.3 203.1 936.4 200.3 M935.0 185.2 933.5 181.5 M931.8 205.2 932.8 202.4 M931.4 187.3 929.9 183.5 M928.2 207.2 929.3 204.5 M927.8 189.3 926.4 185.6 M924.6 209.3 925.7 206.5 M924.3 191.4 922.8 187.7 M921.0 211.4 922.1 208.6 M920.7 193.5 919.2 189.7 M917.5 213.4 918.6 210.7 M917.1 195.5 915.7 191.8 M913.9 215.5 915.0 212.7 M913.6 197.6 912.1 193.9 M910.3 217.6 911.4 214.8 M910.0 199.7 908.5 195.9 M906.8 219.6 907.9 216.8 M906.4 201.7 904.9 198.0 M903.2 221.7 904.3 218.9 M902.8 203.8 901.4 200.0 M899.6 223.7 900.7 221.0 M899.3 205.8 897.8 202.1 M896.1 225.8 897.1 223.0 M895.7 207.9 894.2 204.2 M892.5 227.9 893.6 225.1 M892.1 210.0 890.7 206.2 M888.9 229.9 890.0 227.2 M888.6 212.0 887.1 208.3 M885.3 232.0 886.4 229.2 M885.0 214.1 883.5 210.4 M881.8 234.1 882.9 231.3 M881.4 216.2 880.0 212.4 M878.2 236.1 879.3 233.3 M877.9 218.2 876.4 214.5 M874.6 238.2 875.7 235.4 M874.3 220.3 872.8 216.5 M871.1 240.2 872.2 237.5 M870.7 222.3 869.2 218.6 M867.5 242.3 868.6 239.5 M867.1 224.4 865.7 220.7 M863.9 244.4 865.0 241.6 M863.6 226.5 862.1 222.7 M860.4 246.4 861.4 243.7 M860.0 228.5 858.5 224.8 M856.8 248.5 857.9 245.7 M856.4 230.6 855.0 226.9 M853.2 250.6 854.3 247.8 M852.9 232.7 851.4 228.9 M849.6 252.6 850.7 249.8 M849.3 234.7 847.8 231.0 M846.1 254.7 847.2 251.9 M845.7 236.8 844.3 233.0 M842.5 256.7 843.6 254.0 M842.2 238.8 840.7 235.1 M838.9 258.8 840.0 256.0 M838.6 240.9 837.1 237.2 M835.4 260.9 836.5 258.1 M835.0 243.0 833.5 239.2 M831.8 262.9 832.9 260.1 M831.4 245.0 830.0 241.3 M828.2 265.0 829.3 262.2 M827.9 247.1 826.4 243.4 M824.7 267.1 825.7 264.3 M824.3 249.2 822.8 245.4 M821.1 269.1 822.2 266.3 M820.7 251.2 819.3 247.5 M817.5 271.2 818.6 268.4 M817.2 253.3 815.7 249.5 M813.9 273.2 815.0 270.5 M813.6 255.3 812.1 251.6 M810.4 275.3 811.5 272.5 M810.0 257.4 808.6 253.7 M806.8 277.4 807.9 274.6 M806.5 259.5 805.0 255.7 M803.2 279.4 804.3 276.6 M802.9 261.5 801.4 257.8 M799.7 281.5 800.8 278.7 M799.3 263.6 797.8 259.8 M796.1 283.6 797.2 280.8 M795.7 265.7 794.3 261.9 M792.5 285.6 793.6 282.8 M792.2 267.7 790.7 264.0 M789.0 287.7 790.0 284.9 M788.6 269.8 787.1 266.0 M785.4 289.7 786.5 287.0 M785.0 271.8 783.6 268.1 M781.8 291.8 782.9 289.0 M781.5 273.9 780.0 270.2 M778.2 293.9 779.3 291.1 M777.9 276.0 776.4 272.2 M774.7 295.9 775.8 293.1 M774.3 278.0 772.9 274.3 M771.1 298.0 772.2 295.2 M770.8 280.1 769.3 276.3 M767.5 300.0 768.6 297.3 M767.2 282.2 765.7 278.4 M764.0 302.1 765.1 299.3 M763.6 284.2 762.1 280.5 M760.4 304.2 761.5 301.4 M760.0 286.3 758.6 282.5 M756.8 306.2 757.9 303.5 M756.5 288.3 755.0 284.6 M753.3 308.3 754.3 305.5 M752.9 290.4 751.4 286.7 M749.7 310.4 750.8 307.6 M749.3 292.5 747.9 288.7 M746.1 312.4 747.2 309.6 M745.8 294.5 744.3 290.8 M742.5 314.5 743.6 311.7 M742.2 296.6 740.7 292.8 M739.0 316.5 740.1 313.8 M738.6 298.7 737.2 294.9 M735.4 318.6 736.5 315.8 M735.1 300.7 733.6 297.0 M731.8 320.7 732.9 317.9 M731.5 302.8 730.0 299.0 M728.3 322.7 729.4 320.0 M727.9 304.8 726.4 301.1 M724.7 324.8 725.8 322.0 M724.3 306.9 722.9 303.2 M721.1 326.9 722.2 324.1 M720.8 309.0 719.3 305.2 M717.6 328.9 718.6 326.1 M717.2 311.0 715.7 307.3 M714.0 331.0 715.1 328.2 M713.6 313.1 712.2 309.3 M710.4 333.0 711.5 330.3 M710.1 315.2 708.6 311.4 M706.8 335.1 707.9 332.3 M706.5 317.2 705.0 313.5 M703.3 337.2 704.4 334.4 M702.9 319.3 701.5 315.5 M699.7 339.2 700.8 336.5 M699.4 321.3 697.9 317.6 M696.1 341.3 697.2 338.5 M695.8 323.4 694.3 319.7 M692.6 343.4 693.7 340.6 M692.2 325.5 690.7 321.7 M689.0 345.4 690.1 342.6 M688.6 327.5 687.2 323.8" stroke-width="0.95"/>
<path d="M967.9 169.3 966.7 165.5 M964.3 171.3 963.1 167.6 M960.8 173.4 959.6 169.7 M957.2 175.5 956.0 171.7 M953.6 177.5 952.4 173.8 M950.1 179.6 948.9 175.8 M946.5 181.7 945.3 177.9 M942.9 183.7 941.7 180.0 M939.4 185.8 938.1 182.0 M935.8 187.8 934.6 184.1 M932.2 189.9 931.0 186.2 M928.6 192.0 927.4 188.2 M925.1 194.0 923.9 190.3 M921.5 196.1 920.3 192.3 M917.9 198.2 916.7 194.4 M914.4 200.2 913.2 196.5 M910.8 202.3 909.6 198.5 M907.2 204.3 906.0 200.6 M903.7 206.4 902.4 202.7 M900.1 208.5 898.9 204.7 M896.5 210.5 895.3 206.8 M892.9 212.6 891.7 208.8 M889.4 214.7 888.2 210.9 M885.8 216.7 884.6 213.0 M882.2 218.8 881.0 215.0 M878.7 220.8 877.5 217.1 M875.1 222.9 873.9 219.2 M871.5 225.0 870.3 221.2 M868.0 227.0 866.7 223.3 M864.4 229.1 863.2 225.3 M860.8 231.2 859.6 227.4 M857.2 233.2 856.0 229.5 M853.7 235.3 852.5 231.5 M850.1 237.3 848.9 233.6 M846.5 239.4 845.3 235.7 M843.0 241.5 841.8 237.7 M839.4 243.5 838.2 239.8 M835.8 245.6 834.6 241.8 M832.3 247.7 831.0 243.9 M828.7 249.7 827.5 246.0 M825.1 251.8 823.9 248.0 M821.5 253.8 820.3 250.1 M818.0 255.9 816.8 252.2 M814.4 258.0 813.2 254.2 M810.8 260.0 809.6 256.3 M807.3 262.1 806.1 258.3 M803.7 264.2 802.5 260.4 M800.1 266.2 798.9 262.5 M796.6 268.3 795.3 264.5 M793.0 270.3 791.8 266.6 M789.4 272.4 788.2 268.7 M785.8 274.5 784.6 270.7 M782.3 276.5 781.1 272.8 M778.7 278.6 777.5 274.8 M775.1 280.7 773.9 276.9 M771.6 282.7 770.4 279.0 M768.0 284.8 766.8 281.0 M764.4 286.8 763.2 283.1 M760.9 288.9 759.6 285.1 M757.3 291.0 756.1 287.2 M753.7 293.0 752.5 289.3 M750.1 295.1 748.9 291.3 M746.6 297.2 745.4 293.4 M743.0 299.2 741.8 295.5 M739.4 301.3 738.2 297.5 M735.9 303.3 734.7 299.6 M732.3 305.4 731.1 301.6 M728.7 307.5 727.5 303.7 M725.2 309.5 723.9 305.8 M721.6 311.6 720.4 307.8 M718.0 313.7 716.8 309.9 M714.4 315.7 713.2 312.0 M710.9 317.8 709.7 314.0 M707.3 319.8 706.1 316.1 M703.7 321.9 702.5 318.1 M700.2 324.0 699.0 320.2 M696.6 326.0 695.4 322.3 M693.0 328.1 691.8 324.3 M689.5 330.2 688.2 326.4" stroke-width="0.97"/>
<path d="M947.4 142.6 944.4 141.7 M943.8 144.7 940.8 143.8 M940.3 146.8 937.3 145.9 M936.7 148.8 933.7 147.9 M933.1 150.9 930.1 150.0 M929.6 153.0 926.6 152.1 M926.0 155.0 923.0 154.1 M922.4 157.1 919.4 156.2 M918.9 159.1 915.9 158.2 M915.3 161.2 912.3 160.3 M911.7 163.3 908.7 162.4 M908.1 165.3 905.1 164.4 M904.6 167.4 901.6 166.5 M901.0 169.5 898.0 168.6 M897.4 171.5 894.4 170.6 M893.9 173.6 890.9 172.7 M890.3 175.6 887.3 174.7 M886.7 177.7 883.7 176.8 M883.2 179.8 880.2 178.9 M879.6 181.8 876.6 180.9 M876.0 183.9 873.0 183.0 M872.4 186.0 869.4 185.1 M868.9 188.0 865.9 187.1 M865.3 190.1 862.3 189.2 M861.7 192.1 858.7 191.2 M858.2 194.2 855.2 193.3 M854.6 196.3 851.6 195.4 M851.0 198.3 848.0 197.4 M847.5 200.4 844.5 199.5 M843.9 202.5 840.9 201.6 M840.3 204.5 837.3 203.6 M836.7 206.6 833.7 205.7 M833.2 208.6 830.2 207.7 M829.6 210.7 826.6 209.8 M826.0 212.8 823.0 211.9 M822.5 214.8 819.5 213.9 M818.9 216.9 815.9 216.0 M815.3 219.0 812.3 218.1 M811.8 221.0 808.8 220.1 M808.2 223.1 805.2 222.2 M804.6 225.1 801.6 224.2 M801.0 227.2 798.0 226.3 M797.5 229.3 794.5 228.4 M793.9 231.3 790.9 230.4 M790.3 233.4 787.3 232.5 M786.8 235.5 783.8 234.6 M783.2 237.5 780.2 236.6 M779.6 239.6 776.6 238.7 M776.1 241.6 773.1 240.7 M772.5 243.7 769.5 242.8 M768.9 245.8 765.9 244.9 M765.3 247.8 762.3 246.9 M761.8 249.9 758.8 249.0 M758.2 252.0 755.2 251.1 M754.6 254.0 751.6 253.1 M751.1 256.1 748.1 255.2 M747.5 258.1 744.5 257.2 M743.9 260.2 740.9 259.3 M740.4 262.3 737.4 261.4 M736.8 264.3 733.8 263.4 M733.2 266.4 730.2 265.5 M729.6 268.5 726.6 267.6 M726.1 270.5 723.1 269.6 M722.5 272.6 719.5 271.7 M718.9 274.6 715.9 273.7 M715.4 276.7 712.4 275.8 M711.8 278.8 708.8 277.9 M708.2 280.8 705.2 279.9 M704.7 282.9 701.7 282.0 M701.1 285.0 698.1 284.1 M697.5 287.0 694.5 286.1 M693.9 289.1 690.9 288.2 M690.4 291.1 687.4 290.2 M686.8 293.2 683.8 292.3 M683.2 295.3 680.2 294.4 M679.7 297.3 676.7 296.4 M676.1 299.4 673.1 298.5 M672.5 301.5 669.5 300.6 M669.0 303.5 666.0 302.6" stroke-width="0.98"/>
<path d="M968.2 182.9 968.9 179.9 M968.5 171.9 967.6 168.1 M964.6 185.0 965.3 181.9 M964.9 173.9 964.0 170.2 M961.1 187.0 961.8 184.0 M961.4 176.0 960.4 172.3 M957.5 189.1 958.2 186.1 M957.8 178.1 956.9 174.3 M953.9 191.2 954.6 188.1 M954.2 180.1 953.3 176.4 M950.3 193.2 951.1 190.2 M950.7 182.2 949.7 178.4 M946.8 195.3 947.5 192.2 M947.1 184.2 946.2 180.5 M943.2 197.4 943.9 194.3 M943.5 186.3 942.6 182.6 M939.6 199.4 940.3 196.4 M940.0 188.4 939.0 184.6 M936.1 201.5 936.8 198.4 M936.4 190.4 935.5 186.7 M932.5 203.5 933.2 200.5 M932.8 192.5 931.9 188.8 M928.9 205.6 929.6 202.6 M929.2 194.6 928.3 190.8 M925.4 207.7 926.1 204.6 M925.7 196.6 924.7 192.9 M921.8 209.7 922.5 206.7 M922.1 198.7 921.2 194.9 M918.2 211.8 918.9 208.7 M918.5 200.7 917.6 197.0 M914.6 213.9 915.4 210.8 M915.0 202.8 914.0 199.1 M911.1 215.9 911.8 212.9 M911.4 204.9 910.5 201.1 M907.5 218.0 908.2 214.9 M907.8 206.9 906.9 203.2 M903.9 220.0 904.6 217.0 M904.3 209.0 903.3 205.3 M900.4 222.1 901.1 219.1 M900.7 211.0 899.8 207.3 M896.8 224.2 897.5 221.1 M897.1 213.1 896.2 209.4 M893.2 226.2 893.9 223.2 M893.5 215.2 892.6 211.4 M889.7 228.3 890.4 225.2 M890.0 217.2 889.0 213.5 M886.1 230.4 886.8 227.3 M886.4 219.3 885.5 215.6 M882.5 232.4 883.2 229.4 M882.8 221.4 881.9 217.6 M878.9 234.5 879.7 231.4 M879.3 223.4 878.3 219.7 M875.4 236.5 876.1 233.5 M875.7 225.5 874.8 221.8 M871.8 238.6 872.5 235.6 M872.1 227.5 871.2 223.8 M868.2 240.7 868.9 237.6 M868.6 229.6 867.6 225.9 M864.7 242.7 865.4 239.7 M865.0 231.7 864.1 227.9 M861.1 244.8 861.8 241.7 M861.4 233.7 860.5 230.0 M857.5 246.9 858.2 243.8 M857.8 235.8 856.9 232.1 M854.0 248.9 854.7 245.9 M854.3 237.9 853.3 234.1 M850.4 251.0 851.1 247.9 M850.7 239.9 849.8 236.2 M846.8 253.0 847.5 250.0 M847.1 242.0 846.2 238.3 M843.2 255.1 844.0 252.1 M843.6 244.0 842.6 240.3 M839.7 257.2 840.4 254.1 M840.0 246.1 839.1 242.4 M836.1 259.2 836.8 256.2 M836.4 248.2 835.5 244.4 M832.5 261.3 833.2 258.2 M832.9 250.2 831.9 246.5 M829.0 263.4 829.7 260.3 M829.3 252.3 828.4 248.6 M825.4 265.4 826.1 262.4 M825.7 254.4 824.8 250.6 M821.8 267.5 822.5 264.4 M822.1 256.4 821.2 252.7 M818.3 269.5 819.0 266.5 M818.6 258.5 817.6 254.8 M814.7 271.6 815.4 268.6 M815.0 260.5 814.1 256.8 M811.1 273.7 811.8 270.6 M811.4 262.6 810.5 258.9 M807.5 275.7 808.3 272.7 M807.9 264.7 806.9 260.9 M804.0 277.8 804.7 274.7 M804.3 266.7 803.4 263.0 M800.4 279.9 801.1 276.8 M800.7 268.8 799.8 265.1 M796.8 281.9 797.5 278.9 M797.2 270.9 796.2 267.1 M793.3 284.0 794.0 280.9 M793.6 272.9 792.7 269.2 M789.7 286.0 790.4 283.0 M790.0 275.0 789.1 271.3 M786.1 288.1 786.8 285.1 M786.4 277.0 785.5 273.3 M782.6 290.2 783.3 287.1 M782.9 279.1 781.9 275.4 M779.0 292.2 779.7 289.2 M779.3 281.2 778.4 277.4 M775.4 294.3 776.1 291.2 M775.7 283.2 774.8 279.5 M771.8 296.4 772.6 293.3 M772.2 285.3 771.2 281.6 M768.3 298.4 769.0 295.4 M768.6 287.4 767.7 283.6 M764.7 300.5 765.4 297.4 M765.0 289.4 764.1 285.7 M761.1 302.5 761.8 299.5 M761.5 291.5 760.5 287.8 M757.6 304.6 758.3 301.6 M757.9 293.5 757.0 289.8 M754.0 306.7 754.7 303.6 M754.3 295.6 753.4 291.9 M750.4 308.7 751.1 305.7 M750.7 297.7 749.8 293.9 M746.9 310.8 747.6 307.7 M747.2 299.7 746.2 296.0 M743.3 312.9 744.0 309.8 M743.6 301.8 742.7 298.1 M739.7 314.9 740.4 311.9 M740.0 303.9 739.1 300.1 M736.1 317.0 736.9 313.9 M736.5 305.9 735.5 302.2 M732.6 319.0 733.3 316.0 M732.9 308.0 732.0 304.3 M729.0 321.1 729.7 318.1 M729.3 310.0 728.4 306.3 M725.4 323.2 726.1 320.1 M725.8 312.1 724.8 308.4 M721.9 325.2 722.6 322.2 M722.2 314.2 721.3 310.4 M718.3 327.3 719.0 324.2 M718.6 316.2 717.7 312.5 M714.7 329.4 715.4 326.3 M715.0 318.3 714.1 314.6 M711.2 331.4 711.9 328.4 M711.5 320.4 710.5 316.6 M707.6 333.5 708.3 330.4 M707.9 322.4 707.0 318.7 M704.0 335.5 704.7 332.5 M704.3 324.5 703.4 320.7 M700.4 337.6 701.2 334.6 M700.8 326.5 699.8 322.8 M696.9 339.7 697.6 336.6 M697.2 328.6 696.3 324.9 M693.3 341.7 694.0 338.7 M693.6 330.7 692.7 326.9 M689.7 343.8 690.4 340.7 M690.1 332.7 689.1 329.0" stroke-width="0.99"/>
<path d="M942.2 141.6 939.5 142.1 M938.6 143.6 935.9 144.2 M935.0 145.7 932.3 146.3 M931.4 147.7 928.7 148.3 M927.9 149.8 925.2 150.4 M924.3 151.9 921.6 152.4 M920.7 153.9 918.0 154.5 M917.2 156.0 914.5 156.6 M913.6 158.1 910.9 158.6 M910.0 160.1 907.3 160.7 M906.5 162.2 903.8 162.8 M902.9 164.2 900.2 164.8 M899.3 166.3 896.6 166.9 M895.7 168.4 893.0 168.9 M892.2 170.4 889.5 171.0 M888.6 172.5 885.9 173.1 M885.0 174.6 882.3 175.1 M881.5 176.6 878.8 177.2 M877.9 178.7 875.2 179.3 M874.3 180.7 871.6 181.3 M870.8 182.8 868.1 183.4 M867.2 184.9 864.5 185.4 M863.6 186.9 860.9 187.5 M860.0 189.0 857.3 189.6 M856.5 191.1 853.8 191.6 M852.9 193.1 850.2 193.7 M849.3 195.2 846.6 195.8 M845.8 197.2 843.1 197.8 M842.2 199.3 839.5 199.9 M838.6 201.4 835.9 201.9 M835.1 203.4 832.4 204.0 M831.5 205.5 828.8 206.1 M827.9 207.6 825.2 208.1 M824.3 209.6 821.6 210.2 M820.8 211.7 818.1 212.3 M817.2 213.7 814.5 214.3 M813.6 215.8 810.9 216.4 M810.1 217.9 807.4 218.4 M806.5 219.9 803.8 220.5 M802.9 222.0 800.2 222.6 M799.4 224.1 796.7 224.6 M795.8 226.1 793.1 226.7 M792.2 228.2 789.5 228.8 M788.6 230.2 785.9 230.8 M785.1 232.3 782.4 232.9 M781.5 234.4 778.8 234.9 M777.9 236.4 775.2 237.0 M774.4 238.5 771.7 239.1 M770.8 240.6 768.1 241.1 M767.2 242.6 764.5 243.2 M763.7 244.7 761.0 245.3 M760.1 246.7 757.4 247.3 M756.5 248.8 753.8 249.4 M752.9 250.9 750.2 251.4 M749.4 252.9 746.7 253.5 M745.8 255.0 743.1 255.6 M742.2 257.1 739.5 257.6 M738.7 259.1 736.0 259.7 M735.1 261.2 732.4 261.7 M731.5 263.2 728.8 263.8 M728.0 265.3 725.3 265.9 M724.4 267.4 721.7 267.9 M720.8 269.4 718.1 270.0 M717.2 271.5 714.5 272.1 M713.7 273.6 711.0 274.1 M710.1 275.6 707.4 276.2 M706.5 277.7 703.8 278.2 M703.0 279.7 700.3 280.3 M699.4 281.8 696.7 282.4 M695.8 283.9 693.1 284.4 M692.3 285.9 689.6 286.5 M688.7 288.0 686.0 288.6 M685.1 290.1 682.4 290.6 M681.5 292.1 678.8 292.7 M678.0 294.2 675.3 294.7 M674.4 296.2 671.7 296.8 M670.8 298.3 668.1 298.9 M667.3 300.4 664.6 300.9 M663.7 302.4 661.0 303.0" stroke-width="1.0"/>
<path d="M968.7 181.1 969.1 177.8 M968.9 174.4 968.3 170.7 M945.6 142.0 942.6 141.6 M965.1 183.1 965.5 179.9 M965.3 176.4 964.7 172.8 M942.0 144.1 939.1 143.6 M961.6 185.2 961.9 181.9 M961.8 178.5 961.1 174.8 M938.4 146.1 935.5 145.7 M958.0 187.2 958.4 184.0 M958.2 180.5 957.6 176.9 M934.9 148.2 931.9 147.8 M954.4 189.3 954.8 186.0 M954.6 182.6 954.0 178.9 M931.3 150.3 928.4 149.8 M950.9 191.4 951.2 188.1 M951.0 184.7 950.4 181.0 M927.7 152.3 924.8 151.9 M947.3 193.4 947.6 190.2 M947.5 186.7 946.8 183.1 M924.2 154.4 921.2 153.9 M943.7 195.5 944.1 192.2 M943.9 188.8 943.3 185.1 M920.6 156.4 917.6 156.0 M940.1 197.6 940.5 194.3 M940.3 190.9 939.7 187.2 M917.0 158.5 914.1 158.1 M936.6 199.6 936.9 196.4 M936.8 192.9 936.1 189.3 M913.5 160.6 910.5 160.1 M933.0 201.7 933.4 198.4 M933.2 195.0 932.6 191.3 M909.9 162.6 906.9 162.2 M929.4 203.7 929.8 200.5 M929.6 197.0 929.0 193.4 M906.3 164.7 903.4 164.3 M925.9 205.8 926.2 202.5 M926.1 199.1 925.4 195.4 M902.7 166.8 899.8 166.3 M922.3 207.9 922.7 204.6 M922.5 201.2 921.9 197.5 M899.2 168.8 896.2 168.4 M918.7 209.9 919.1 206.7 M918.9 203.2 918.3 199.6 M895.6 170.9 892.7 170.4 M915.2 212.0 915.5 208.7 M915.3 205.3 914.7 201.6 M892.0 172.9 889.1 172.5 M911.6 214.1 911.9 210.8 M911.8 207.4 911.1 203.7 M888.5 175.0 885.5 174.6 M908.0 216.1 908.4 212.9 M908.2 209.4 907.6 205.8 M884.9 177.1 881.9 176.6 M904.4 218.2 904.8 214.9 M904.6 211.5 904.0 207.8 M881.3 179.1 878.4 178.7 M900.9 220.2 901.2 217.0 M901.1 213.5 900.4 209.9 M877.8 181.2 874.8 180.8 M897.3 222.3 897.7 219.0 M897.5 215.6 896.9 211.9 M874.2 183.3 871.2 182.8 M893.7 224.4 894.1 221.1 M893.9 217.7 893.3 214.0 M870.6 185.3 867.7 184.9 M890.2 226.4 890.5 223.2 M890.4 219.7 889.7 216.1 M867.0 187.4 864.1 186.9 M886.6 228.5 887.0 225.2 M886.8 221.8 886.2 218.1 M863.5 189.4 860.5 189.0 M883.0 230.6 883.4 227.3 M883.2 223.9 882.6 220.2 M859.9 191.5 857.0 191.1 M879.5 232.6 879.8 229.4 M879.6 225.9 879.0 222.3 M856.3 193.6 853.4 193.1 M875.9 234.7 876.2 231.4 M876.1 228.0 875.4 224.3 M852.8 195.6 849.8 195.2 M872.3 236.7 872.7 233.5 M872.5 230.0 871.9 226.4 M849.2 197.7 846.2 197.2 M868.7 238.8 869.1 235.5 M868.9 232.1 868.3 228.4 M845.6 199.8 842.7 199.3 M865.2 240.9 865.5 237.6 M865.4 234.2 864.7 230.5 M842.1 201.8 839.1 201.4 M861.6 242.9 862.0 239.7 M861.8 236.2 861.2 232.6 M838.5 203.9 835.5 203.4 M858.0 245.0 858.4 241.7 M858.2 238.3 857.6 234.6 M834.9 205.9 832.0 205.5 M854.5 247.1 854.8 243.8 M854.7 240.4 854.0 236.7 M831.3 208.0 828.4 207.6 M850.9 249.1 851.3 245.9 M851.1 242.4 850.5 238.7 M827.8 210.1 824.8 209.6 M847.3 251.2 847.7 247.9 M847.5 244.5 846.9 240.8 M824.2 212.1 821.3 211.7 M843.8 253.2 844.1 250.0 M843.9 246.5 843.3 242.9 M820.6 214.2 817.7 213.7 M840.2 255.3 840.5 252.0 M840.4 248.6 839.7 244.9 M817.1 216.3 814.1 215.8 M836.6 257.4 837.0 254.1 M836.8 250.7 836.2 247.0 M813.5 218.3 810.5 217.9 M833.0 259.4 833.4 256.2 M833.2 252.7 832.6 249.1 M809.9 220.4 807.0 219.9 M829.5 261.5 829.8 258.2 M829.7 254.8 829.0 251.1 M806.4 222.4 803.4 222.0 M825.9 263.6 826.3 260.3 M826.1 256.9 825.5 253.2 M802.8 224.5 799.8 224.1 M822.3 265.6 822.7 262.3 M822.5 258.9 821.9 255.2 M799.2 226.6 796.3 226.1 M818.8 267.7 819.1 264.4 M819.0 261.0 818.3 257.3 M795.6 228.6 792.7 228.2 M815.2 269.7 815.6 266.5 M815.4 263.0 814.8 259.4 M792.1 230.7 789.1 230.2 M811.6 271.8 812.0 268.5 M811.8 265.1 811.2 261.4 M788.5 232.8 785.6 232.3 M808.1 273.9 808.4 270.6 M808.2 267.2 807.6 263.5 M784.9 234.8 782.0 234.4 M804.5 275.9 804.8 272.7 M804.7 269.2 804.0 265.6 M781.4 236.9 778.4 236.4 M800.9 278.0 801.3 274.7 M801.1 271.3 800.5 267.6 M777.8 238.9 774.8 238.5 M797.3 280.1 797.7 276.8 M797.5 273.4 796.9 269.7 M774.2 241.0 771.3 240.6 M793.8 282.1 794.1 278.8 M794.0 275.4 793.3 271.7 M770.7 243.1 767.7 242.6 M790.2 284.2 790.6 280.9 M790.4 277.5 789.8 273.8 M767.1 245.1 764.1 244.7 M786.6 286.2 787.0 283.0 M786.8 279.5 786.2 275.9 M763.5 247.2 760.6 246.7 M783.1 288.3 783.4 285.0 M783.3 281.6 782.6 277.9 M759.9 249.3 757.0 248.8 M779.5 290.4 779.9 287.1 M779.7 283.7 779.1 280.0 M756.4 251.3 753.4 250.9 M775.9 292.4 776.3 289.2 M776.1 285.7 775.5 282.1 M752.8 253.4 749.9 252.9 M772.4 294.5 772.7 291.2 M772.5 287.8 771.9 284.1 M749.2 255.4 746.3 255.0 M768.8 296.5 769.1 293.3 M769.0 289.9 768.3 286.2 M745.7 257.5 742.7 257.1 M765.2 298.6 765.6 295.3 M765.4 291.9 764.8 288.2 M742.1 259.6 739.1 259.1 M761.6 300.7 762.0 297.4 M761.8 294.0 761.2 290.3 M738.5 261.6 735.6 261.2 M758.1 302.7 758.4 299.5 M758.3 296.0 757.6 292.4 M735.0 263.7 732.0 263.2 M754.5 304.8 754.9 301.5 M754.7 298.1 754.1 294.4 M731.4 265.8 728.4 265.3 M750.9 306.9 751.3 303.6 M751.1 300.2 750.5 296.5 M727.8 267.8 724.9 267.4 M747.4 308.9 747.7 305.7 M747.6 302.2 746.9 298.6 M724.2 269.9 721.3 269.4 M743.8 311.0 744.2 307.7 M744.0 304.3 743.4 300.6 M720.7 271.9 717.7 271.5 M740.2 313.0 740.6 309.8 M740.4 306.4 739.8 302.7 M717.1 274.0 714.2 273.6 M736.7 315.1 737.0 311.8 M736.8 308.4 736.2 304.7 M713.5 276.1 710.6 275.6 M733.1 317.2 733.4 313.9 M733.3 310.5 732.6 306.8 M710.0 278.1 707.0 277.7 M729.5 319.2 729.9 316.0 M729.7 312.5 729.1 308.9 M706.4 280.2 703.4 279.7 M725.9 321.3 726.3 318.0 M726.1 314.6 725.5 310.9 M702.8 282.3 699.9 281.8 M722.4 323.4 722.7 320.1 M722.6 316.7 721.9 313.0 M699.3 284.3 696.3 283.9 M718.8 325.4 719.2 322.2 M719.0 318.7 718.4 315.1 M695.7 286.4 692.7 285.9 M715.2 327.5 715.6 324.2 M715.4 320.8 714.8 317.1 M692.1 288.4 689.2 288.0 M711.7 329.5 712.0 326.3 M711.9 322.9 711.2 319.2 M688.5 290.5 685.6 290.1 M708.1 331.6 708.5 328.3 M708.3 324.9 707.7 321.2 M685.0 292.6 682.0 292.1 M704.5 333.7 704.9 330.4 M704.7 327.0 704.1 323.3 M681.4 294.6 678.5 294.2 M701.0 335.7 701.3 332.5 M701.1 329.0 700.5 325.4 M677.8 296.7 674.9 296.2 M697.4 337.8 697.7 334.5 M697.6 331.1 696.9 327.4 M674.3 298.8 671.3 298.3 M693.8 339.9 694.2 336.6 M694.0 333.2 693.4 329.5 M670.7 300.8 667.7 300.4 M690.2 341.9 690.6 338.7 M690.4 335.2 689.8 331.6 M667.1 302.9 664.2 302.4" stroke-width="1.01"/>
<path d="M969.0 179.0 969.0 176.1 968.7 173.2 M943.8 141.6 941.0 141.7 M965.4 181.1 965.4 178.2 965.2 175.2 M940.3 143.7 937.4 143.8 M961.9 183.1 961.9 180.3 961.6 177.3 M936.7 145.8 933.8 145.8 M958.3 185.2 958.3 182.3 958.0 179.4 M933.1 147.8 930.3 147.9 M954.7 187.2 954.7 184.4 954.5 181.4 M929.5 149.9 926.7 149.9 M951.1 189.3 951.2 186.5 950.9 183.5 M926.0 152.0 923.1 152.0 M947.6 191.4 947.6 188.5 947.3 185.5 M922.4 154.0 919.6 154.1 M944.0 193.4 944.0 190.6 943.8 187.6 M918.8 156.1 916.0 156.1 M940.4 195.5 940.4 192.6 940.2 189.7 M915.3 158.1 912.4 158.2 M936.9 197.5 936.9 194.7 936.6 191.7 M911.7 160.2 908.8 160.3 M933.3 199.6 933.3 196.8 933.0 193.8 M908.1 162.3 905.3 162.3 M929.7 201.7 929.7 198.8 929.5 195.9 M904.6 164.3 901.7 164.4 M926.2 203.7 926.2 200.9 925.9 197.9 M901.0 166.4 898.1 166.4 M922.6 205.8 922.6 203.0 922.3 200.0 M897.4 168.5 894.6 168.5 M919.0 207.9 919.0 205.0 918.8 202.0 M893.8 170.5 891.0 170.6 M915.4 209.9 915.5 207.1 915.2 204.1 M890.3 172.6 887.4 172.6 M911.9 212.0 911.9 209.1 911.6 206.2 M886.7 174.6 883.9 174.7 M908.3 214.0 908.3 211.2 908.1 208.2 M883.1 176.7 880.3 176.8 M904.7 216.1 904.7 213.3 904.5 210.3 M879.6 178.8 876.7 178.8 M901.2 218.2 901.2 215.3 900.9 212.4 M876.0 180.8 873.1 180.9 M897.6 220.2 897.6 217.4 897.3 214.4 M872.4 182.9 869.6 182.9 M894.0 222.3 894.0 219.5 893.8 216.5 M868.9 185.0 866.0 185.0 M890.5 224.4 890.5 221.5 890.2 218.5 M865.3 187.0 862.4 187.1 M886.9 226.4 886.9 223.6 886.6 220.6 M861.7 189.1 858.9 189.1 M883.3 228.5 883.3 225.6 883.1 222.7 M858.1 191.1 855.3 191.2 M879.7 230.5 879.8 227.7 879.5 224.7 M854.6 193.2 851.7 193.3 M876.2 232.6 876.2 229.8 875.9 226.8 M851.0 195.3 848.2 195.3 M872.6 234.7 872.6 231.8 872.4 228.9 M847.4 197.3 844.6 197.4 M869.0 236.7 869.0 233.9 868.8 230.9 M843.9 199.4 841.0 199.4 M865.5 238.8 865.5 236.0 865.2 233.0 M840.3 201.5 837.4 201.5 M861.9 240.9 861.9 238.0 861.6 235.0 M836.7 203.5 833.9 203.6 M858.3 242.9 858.3 240.1 858.1 237.1 M833.2 205.6 830.3 205.6 M854.8 245.0 854.8 242.1 854.5 239.2 M829.6 207.6 826.7 207.7 M851.2 247.0 851.2 244.2 850.9 241.2 M826.0 209.7 823.2 209.8 M847.6 249.1 847.6 246.3 847.4 243.3 M822.4 211.8 819.6 211.8 M844.0 251.2 844.1 248.3 843.8 245.4 M818.9 213.8 816.0 213.9 M840.5 253.2 840.5 250.4 840.2 247.4 M815.3 215.9 812.5 215.9 M836.9 255.3 836.9 252.5 836.7 249.5 M811.7 218.0 808.9 218.0 M833.3 257.4 833.3 254.5 833.1 251.5 M808.2 220.0 805.3 220.1 M829.8 259.4 829.8 256.6 829.5 253.6 M804.6 222.1 801.7 222.1 M826.2 261.5 826.2 258.6 825.9 255.7 M801.0 224.1 798.2 224.2 M822.6 263.5 822.6 260.7 822.4 257.7 M797.5 226.2 794.6 226.3 M819.1 265.6 819.1 262.8 818.8 259.8 M793.9 228.3 791.0 228.3 M815.5 267.7 815.5 264.8 815.2 261.9 M790.3 230.3 787.5 230.4 M811.9 269.7 811.9 266.9 811.7 263.9 M786.7 232.4 783.9 232.4 M808.3 271.8 808.4 269.0 808.1 266.0 M783.2 234.5 780.3 234.5 M804.8 273.9 804.8 271.0 804.5 268.0 M779.6 236.5 776.8 236.6 M801.2 275.9 801.2 273.1 801.0 270.1 M776.0 238.6 773.2 238.6 M797.6 278.0 797.6 275.1 797.4 272.2 M772.5 240.6 769.6 240.7 M794.1 280.0 794.1 277.2 793.8 274.2 M768.9 242.7 766.0 242.8 M790.5 282.1 790.5 279.3 790.2 276.3 M765.3 244.8 762.5 244.8 M786.9 284.2 786.9 281.3 786.7 278.4 M761.8 246.8 758.9 246.9 M783.4 286.2 783.4 283.4 783.1 280.4 M758.2 248.9 755.3 248.9 M779.8 288.3 779.8 285.5 779.5 282.5 M754.6 251.0 751.8 251.0 M776.2 290.4 776.2 287.5 776.0 284.5 M751.0 253.0 748.2 253.1 M772.6 292.4 772.7 289.6 772.4 286.6 M747.5 255.1 744.6 255.1 M769.1 294.5 769.1 291.6 768.8 288.7 M743.9 257.1 741.1 257.2 M765.5 296.5 765.5 293.7 765.3 290.7 M740.3 259.2 737.5 259.3 M761.9 298.6 761.9 295.8 761.7 292.8 M736.8 261.3 733.9 261.3 M758.4 300.7 758.4 297.8 758.1 294.9 M733.2 263.3 730.3 263.4 M754.8 302.7 754.8 299.9 754.5 296.9 M729.6 265.4 726.8 265.4 M751.2 304.8 751.2 302.0 751.0 299.0 M726.1 267.4 723.2 267.5 M747.7 306.9 747.7 304.0 747.4 301.0 M722.5 269.5 719.6 269.6 M744.1 308.9 744.1 306.1 743.8 303.1 M718.9 271.6 716.1 271.6 M740.5 311.0 740.5 308.1 740.3 305.2 M715.3 273.6 712.5 273.7 M736.9 313.0 737.0 310.2 736.7 307.2 M711.8 275.7 708.9 275.7 M733.4 315.1 733.4 312.3 733.1 309.3 M708.2 277.8 705.4 277.8 M729.8 317.2 729.8 314.3 729.6 311.4 M704.6 279.8 701.8 279.9 M726.2 319.2 726.2 316.4 726.0 313.4 M701.1 281.9 698.2 281.9 M722.7 321.3 722.7 318.5 722.4 315.5 M697.5 283.9 694.6 284.0 M719.1 323.4 719.1 320.5 718.8 317.5 M693.9 286.0 691.1 286.1 M715.5 325.4 715.5 322.6 715.3 319.6 M690.4 288.1 687.5 288.1 M712.0 327.5 712.0 324.6 711.7 321.7 M686.8 290.1 683.9 290.2 M708.4 329.5 708.4 326.7 708.1 323.7 M683.2 292.2 680.4 292.2 M704.8 331.6 704.8 328.8 704.6 325.8 M679.6 294.3 676.8 294.3 M701.2 333.7 701.3 330.8 701.0 327.9 M676.1 296.3 673.2 296.4 M697.7 335.7 697.7 332.9 697.4 329.9 M672.5 298.4 669.7 298.4 M694.1 337.8 694.1 335.0 693.9 332.0 M668.9 300.4 666.1 300.5 M690.5 339.9 690.5 337.0 690.3 334.0 M665.4 302.5 662.5 302.6" stroke-width="1.02"/>
<path d="M679.6 417.8 L683.3 415.2 L686.4 411.8 L689.0 407.7 L691.1 403.0 L692.6 397.6 L693.4 391.6 L693.7 385.2 L693.4 378.3 L692.4 371.1 L690.9 363.6 L688.8 355.9 L686.2 348.1 L683.0 340.3 L679.3 332.5 L675.2 324.9 L670.7 317.5 L665.8 310.5 L660.6 303.8 L655.2 297.6 L649.6 291.9 L643.8 286.9 L638.0 282.5 L632.3 278.7 L626.5 275.7 L620.9 273.5 L615.5 272.1 L610.4 271.5 L605.5 271.7 L601.0 272.7 L596.9 274.6 L593.3 277.2 L590.2 280.6 L587.6 284.7 L585.5 289.4 L584.0 294.8 L583.2 300.8 L582.9 307.2 L583.2 314.1 L584.2 321.3 L585.7 328.8 L587.8 336.5 L590.4 344.3 L593.6 352.1 L597.3 359.9 L601.4 367.5 L605.9 374.9 L610.8 381.9 L616.0 388.6 L621.4 394.8 L627.0 400.5 L632.8 405.5 L638.6 409.9 L644.3 413.7 L650.1 416.7 L655.7 418.9 L661.1 420.3 L666.2 420.9 L671.1 420.7 L675.6 419.7 L679.6 417.8Z" fill="#fff" stroke="none" stroke-width="0" />
<path d="M693.1 409.4 L696.3 407.1 L699.0 404.0 L701.2 400.2 L702.8 395.7 L703.9 390.6 L704.4 384.9 L704.4 378.7 L703.8 372.1 L702.6 365.1 L700.9 357.8 L698.6 350.3 L695.8 342.7 L692.6 335.1 L688.9 327.4 L684.8 320.0 L680.4 312.7 L675.6 305.7 L670.6 299.0 L665.4 292.8 L660.0 287.1 L654.6 282.0 L649.1 277.5 L643.7 273.6 L638.4 270.5 L633.2 268.1 L628.2 266.5 L623.5 265.7 L619.1 265.7 L615.1 266.5 L611.5 268.0 L608.3 270.4 L605.6 273.5 L603.4 277.3 L601.8 281.8 L600.7 286.9 L600.2 292.6 L600.2 298.8 L600.8 305.4 L602.0 312.4 L603.7 319.6 L606.0 327.1 L608.8 334.7 L612.0 342.4 L615.7 350.0 L619.8 357.5 L624.2 364.8 L629.0 371.8 L634.0 378.4 L639.2 384.6 L644.5 390.3 L650.0 395.5 L655.4 400.0 L660.9 403.8 L666.2 406.9 L671.4 409.3 L676.3 410.9 L681.1 411.8 L685.4 411.8 L689.5 411.0 L693.1 409.4Z" fill="#fff" stroke="none" stroke-width="0" />
<path d="M679.6 417.8 L693.1 409.4 L611.5 268.0 L596.9 274.6Z" fill="#fff" stroke="none" stroke-width="0" />
<path d="M662.2 289.4 658.7 285.8" stroke-width="1.44"/>
<path d="M695.8 407.5 698.0 405.3" stroke-width="1.45"/>
<path d="M659.6 286.7 656.1 283.3" stroke-width="1.47"/>
<path d="M664.8 292.2 661.4 288.5" stroke-width="1.48"/>
<path d="M656.9 284.1 653.4 280.9" stroke-width="1.51"/>
<path d="M667.4 295.2 664.0 291.3" stroke-width="1.52"/>
<path d="M654.3 281.7 650.7 278.6" stroke-width="1.55"/>
<path d="M694.3 408.7 696.7 406.7 M670.0 298.2 666.7 294.3" stroke-width="1.56"/>
<path d="M697.2 406.2 699.3 403.6 M672.5 301.4 669.2 297.3" stroke-width="1.59"/>
<path d="M651.6 279.4 648.0 276.6" stroke-width="1.6"/>
<path d="M674.9 304.7 671.7 300.5" stroke-width="1.62"/>
<path d="M648.9 277.3 645.3 274.7" stroke-width="1.64"/>
<path d="M677.3 308.1 674.2 303.7" stroke-width="1.65"/>
<path d="M679.6 311.5 676.6 307.1" stroke-width="1.68"/>
<path d="M692.6 409.7 695.2 408.0 M646.3 275.3 642.6 272.9" stroke-width="1.69"/>
<path d="M698.6 404.6 700.4 401.8 M681.9 315.1 679.0 310.5" stroke-width="1.7"/>
<path d="M684.1 318.7 681.2 314.0 M643.6 273.6 640.0 271.3" stroke-width="1.73"/>
<path d="M686.1 322.3 683.4 317.6" stroke-width="1.75"/>
<path d="M688.1 326.0 685.6 321.3 M641.0 271.9 637.3 270.0" stroke-width="1.78"/>
<path d="M699.8 402.8 701.3 399.8" stroke-width="1.79"/>
<path d="M690.1 329.7 687.6 324.9" stroke-width="1.8"/>
<path d="M613.7 266.9 610.9 268.3" stroke-width="1.81"/>
<path d="M691.9 333.5 689.5 328.6 M638.4 270.5 634.8 268.8" stroke-width="1.82"/>
<path d="M693.6 337.2 691.3 332.4" stroke-width="1.84"/>
<path d="M700.8 400.9 702.2 397.7 M695.2 341.0 693.1 336.1" stroke-width="1.86"/>
<path d="M635.9 269.2 632.2 267.7" stroke-width="1.87"/>
<path d="M696.6 344.8 694.7 339.9" stroke-width="1.88"/>
<path d="M615.6 266.3 612.6 267.4" stroke-width="1.89"/>
<path d="M698.0 348.5 696.2 343.7" stroke-width="1.9"/>
<path d="M633.4 268.2 629.8 266.9" stroke-width="1.91"/>
<path d="M701.8 398.8 702.9 395.4 M699.2 352.3 697.6 347.4" stroke-width="1.92"/>
<path d="M700.3 356.0 698.9 351.1" stroke-width="1.93"/>
<path d="M701.3 359.6 700.0 354.8 M630.9 267.3 627.3 266.3" stroke-width="1.95"/>
<path d="M702.6 396.6 703.5 393.0 M702.2 363.2 701.0 358.4 M617.6 265.9 614.5 266.6" stroke-width="1.96"/>
<path d="M703.2 394.2 703.9 390.4 M702.9 366.7 701.9 362.0 M628.5 266.6 625.0 265.8" stroke-width="1.98"/>
<path d="M703.5 370.2 702.7 365.6" stroke-width="1.99"/>
<path d="M703.7 391.6 704.3 387.7 M704.0 373.6 703.3 369.0 M626.2 266.0 622.7 265.6 M619.6 265.6 616.4 266.1" stroke-width="2.0"/>
<path d="M704.1 388.9 704.4 384.9 M704.3 376.8 703.8 372.4" stroke-width="2.01"/>
<path d="M704.4 386.1 704.5 382.5 704.4 379.4 704.2 375.7 M623.9 265.7 621.1 265.6 618.4 265.7" stroke-width="2.02"/>
<path d="M679.6 417.8 693.1 409.4" stroke-width="1.72"/>
<path d="M596.9 274.6 611.5 268.0" stroke-width="1.84"/>
<path d="M654.7 297.1 649.1 291.5 M621.9 395.3 627.5 400.9" stroke-width="1.43"/>
<path d="M682.3 416.1 685.9 412.6 M594.3 276.3 590.7 279.8" stroke-width="1.45"/>
<path d="M659.2 302.1 653.9 296.2 M650.0 292.3 644.3 287.3 M617.4 390.3 622.7 396.2 M626.6 400.1 632.3 405.1" stroke-width="1.51"/>
<path d="M663.6 307.6 658.4 301.2 M613.0 384.8 618.2 391.2" stroke-width="1.57"/>
<path d="M645.3 288.0 639.5 283.5 M631.3 404.4 637.1 408.9" stroke-width="1.59"/>
<path d="M685.1 413.5 688.1 409.4 M591.5 278.9 588.5 283.0" stroke-width="1.62"/>
<path d="M667.8 313.3 662.9 306.6 M608.8 379.1 613.7 385.8" stroke-width="1.63"/>
<path d="M679.2 418.2 683.2 415.3 M640.5 284.2 634.6 280.2 M597.4 274.2 593.4 277.1 M636.1 408.2 642.0 412.2" stroke-width="1.66"/>
<path d="M671.8 319.2 667.1 312.3 M604.8 373.2 609.5 380.1" stroke-width="1.68"/>
<path d="M675.5 325.4 671.1 318.2 M601.1 367.0 605.5 374.2" stroke-width="1.73"/>
<path d="M635.7 280.8 629.8 277.3 M640.9 411.6 646.8 415.1" stroke-width="1.74"/>
<path d="M678.9 331.8 674.9 324.4 M597.7 360.6 601.7 368.0" stroke-width="1.77"/>
<path d="M687.5 410.4 690.1 405.7 M589.1 282.0 586.5 286.7" stroke-width="1.78"/>
<path d="M682.1 338.2 678.4 330.7 M630.9 277.9 625.0 275.1 M594.5 354.2 598.2 361.7 M645.7 414.5 651.6 417.3" stroke-width="1.82"/>
<path d="M600.9 272.7 596.4 274.8 M675.7 419.7 680.2 417.6" stroke-width="1.83"/>
<path d="M684.9 344.7 681.6 337.1 M591.7 347.7 595.0 355.3" stroke-width="1.85"/>
<path d="M689.6 406.8 691.6 401.6 M587.0 285.6 585.0 290.8" stroke-width="1.88"/>
<path d="M687.3 351.2 684.4 343.6 M626.1 275.5 620.4 273.3 M589.3 341.2 592.2 348.8 M650.5 416.9 656.2 419.1" stroke-width="1.89"/>
<path d="M689.4 357.7 686.9 350.1 M587.2 334.7 589.7 342.3" stroke-width="1.92"/>
<path d="M691.2 402.7 692.7 397.0 M691.1 364.1 689.0 356.6 M621.5 273.7 615.8 272.1 M604.6 271.8 599.7 273.2 M585.4 289.7 583.9 295.4 M585.5 328.3 587.6 335.8 M655.1 418.7 660.8 420.3 M672.0 420.6 676.9 419.2" stroke-width="1.95"/>
<path d="M692.4 370.4 690.8 363.0 M584.2 322.0 585.8 329.4" stroke-width="1.98"/>
<path d="M692.5 398.2 693.4 392.1 M693.2 376.5 692.1 369.2 M617.0 272.4 611.5 271.5 M584.1 294.2 583.2 300.3 M583.4 315.9 584.5 323.2 M659.6 420.0 665.1 420.9" stroke-width="2.0"/>
<path d="M693.7 382.4 693.1 375.3 M608.5 271.4 603.4 272.0 M582.9 310.0 583.5 317.1 M668.1 421.0 673.2 420.4" stroke-width="2.01"/>
<path d="M693.3 393.3 693.7 387.4 693.6 381.2 M612.7 271.6 607.3 271.5 M583.3 299.1 582.9 305.0 583.0 311.2 M663.9 420.8 669.3 420.9" stroke-width="2.02"/>
<path d="M628.3 430.8 L630.9 428.9 L633.2 426.3 L635.0 423.2 L636.3 419.5 L637.2 415.3 L637.6 410.6 L637.6 405.5 L637.1 400.1 L636.1 394.3 L634.7 388.3 L632.8 382.1 L630.6 375.8 L627.9 369.5 L624.8 363.3 L621.5 357.1 L617.8 351.1 L613.9 345.3 L609.8 339.8 L605.5 334.7 L601.1 330.0 L596.6 325.8 L592.1 322.1 L587.6 318.9 L583.2 316.3 L578.9 314.4 L574.8 313.0 L571.0 312.4 L567.3 312.3 L564.0 313.0 L561.0 314.3 L558.4 316.2 L556.2 318.8 L554.4 321.9 L553.0 325.6 L552.1 329.8 L551.7 334.5 L551.7 339.6 L552.2 345.1 L553.2 350.8 L554.6 356.8 L556.5 363.0 L558.8 369.3 L561.5 375.6 L564.5 381.9 L567.9 388.0 L571.5 394.0 L575.4 399.8 L579.6 405.3 L583.9 410.4 L588.3 415.1 L592.8 419.3 L597.3 423.1 L601.7 426.2 L606.1 428.8 L610.4 430.8 L614.5 432.1 L618.4 432.8 L622.0 432.8 L625.3 432.1 L628.3 430.8Z" fill="#fff" stroke="none" stroke-width="0" />
<path d="M674.5 404.1 L677.1 402.1 L679.3 399.6 L681.1 396.5 L682.5 392.8 L683.4 388.5 L683.8 383.9 L683.8 378.8 L683.3 373.3 L682.3 367.5 L680.9 361.5 L679.0 355.4 L676.7 349.1 L674.0 342.8 L671.0 336.5 L667.6 330.3 L664.0 324.3 L660.1 318.6 L655.9 313.1 L651.6 308.0 L647.2 303.3 L642.7 299.0 L638.2 295.3 L633.8 292.1 L629.4 289.6 L625.1 287.6 L621.0 286.3 L617.1 285.6 L613.5 285.6 L610.2 286.2 L607.2 287.5 L604.6 289.5 L602.3 292.0 L600.5 295.2 L599.2 298.9 L598.3 303.1 L597.9 307.8 L597.9 312.9 L598.4 318.3 L599.4 324.1 L600.8 330.1 L602.7 336.2 L604.9 342.5 L607.6 348.8 L610.7 355.1 L614.0 361.3 L617.7 367.3 L621.6 373.1 L625.7 378.5 L630.0 383.7 L634.4 388.4 L638.9 392.6 L643.4 396.3 L647.9 399.5 L652.3 402.1 L656.6 404.0 L660.7 405.3 L664.5 406.0 L668.2 406.0 L671.5 405.4 L674.5 404.1Z" fill="#fff" stroke="none" stroke-width="0" />
<path d="M628.3 430.8 L674.5 404.1 L607.2 287.5 L561.0 314.3Z" fill="#fff" stroke="none" stroke-width="0" />
<path d="M648.5 304.6 645.0 301.1" stroke-width="1.44"/>
<path d="M651.2 307.4 647.7 303.7" stroke-width="1.48"/>
<path d="M645.9 301.9 642.3 298.6" stroke-width="1.49"/>
<path d="M675.6 403.4 678.0 401.3 M653.8 310.4 650.4 306.5" stroke-width="1.52"/>
<path d="M677.2 402.1 679.3 399.7" stroke-width="1.53"/>
<path d="M643.2 299.4 639.6 296.4" stroke-width="1.54"/>
<path d="M656.3 313.5 653.0 309.5" stroke-width="1.57"/>
<path d="M658.8 316.8 655.6 312.6 M640.5 297.1 636.9 294.3" stroke-width="1.6"/>
<path d="M661.2 320.2 658.1 315.8" stroke-width="1.64"/>
<path d="M637.8 295.0 634.2 292.4" stroke-width="1.65"/>
<path d="M663.5 323.6 660.5 319.2" stroke-width="1.67"/>
<path d="M674.0 404.4 676.6 402.7 M678.6 400.6 680.4 397.9" stroke-width="1.68"/>
<path d="M665.8 327.2 662.9 322.6 M635.2 293.1 631.5 290.7" stroke-width="1.71"/>
<path d="M667.9 330.8 665.2 326.2" stroke-width="1.74"/>
<path d="M632.5 291.3 628.8 289.3" stroke-width="1.76"/>
<path d="M670.0 334.5 667.3 329.8" stroke-width="1.77"/>
<path d="M679.8 398.9 681.4 395.9 M671.9 338.3 669.4 333.5" stroke-width="1.79"/>
<path d="M673.7 342.1 671.4 337.2 M629.9 289.8 626.2 288.1 M609.5 286.4 606.6 287.8" stroke-width="1.82"/>
<path d="M675.4 345.9 673.2 341.0" stroke-width="1.85"/>
<path d="M676.9 349.7 674.9 344.8 M627.3 288.5 623.7 287.1" stroke-width="1.87"/>
<path d="M680.9 397.0 682.2 393.7" stroke-width="1.88"/>
<path d="M678.4 353.4 676.5 348.5" stroke-width="1.89"/>
<path d="M679.6 357.2 677.9 352.3" stroke-width="1.91"/>
<path d="M624.8 287.5 621.2 286.3 M611.4 285.9 608.4 286.9" stroke-width="1.92"/>
<path d="M680.7 360.9 679.2 356.0" stroke-width="1.93"/>
<path d="M681.8 394.9 682.9 391.4" stroke-width="1.94"/>
<path d="M681.6 364.5 680.4 359.7" stroke-width="1.95"/>
<path d="M682.4 368.1 681.4 363.4 M622.4 286.6 618.8 285.8" stroke-width="1.97"/>
<path d="M682.6 392.5 683.4 388.8 M613.4 285.6 610.2 286.2" stroke-width="1.98"/>
<path d="M683.0 371.6 682.2 367.0" stroke-width="1.99"/>
<path d="M683.1 390.0 683.7 386.1 M683.5 375.0 682.8 370.4 M620.0 286.0 616.5 285.5" stroke-width="2.0"/>
<path d="M683.6 387.3 683.8 383.3 M683.8 378.3 683.3 373.8 M615.5 285.5 612.2 285.7" stroke-width="2.01"/>
<path d="M683.8 384.5 683.8 380.8 683.7 377.1 M617.7 285.6 614.3 285.5" stroke-width="2.02"/>
<path d="M628.3 430.8 674.5 404.1" stroke-width="1.75"/>
<path d="M561.0 314.3 607.2 287.5" stroke-width="1.75"/>
<path d="M581.5 474.8 L585.2 472.1 L588.4 468.7 L591.0 464.6 L593.1 459.8 L594.7 454.4 L595.6 448.4 L595.9 442.0 L595.7 435.1 L594.8 427.9 L593.3 420.4 L591.2 412.7 L588.6 404.9 L585.4 397.1 L581.8 389.4 L577.7 381.8 L573.2 374.5 L568.3 367.4 L563.1 360.8 L557.7 354.7 L552.1 349.0 L546.3 344.0 L540.5 339.6 L534.7 335.9 L528.9 333.0 L523.3 330.8 L517.9 329.4 L512.7 328.9 L507.8 329.1 L503.2 330.2 L499.1 332.0 L495.4 334.7 L492.2 338.1 L489.6 342.2 L487.5 347.0 L485.9 352.4 L485.0 358.4 L484.7 364.8 L484.9 371.7 L485.8 378.9 L487.3 386.4 L489.4 394.1 L492.0 401.9 L495.2 409.7 L498.8 417.4 L502.9 425.0 L507.4 432.3 L512.3 439.4 L517.5 446.0 L522.9 452.1 L528.5 457.8 L534.3 462.8 L540.1 467.2 L545.9 470.9 L551.7 473.8 L557.3 476.0 L562.7 477.4 L567.9 477.9 L572.8 477.7 L577.4 476.6 L581.5 474.8Z" fill="#fff" stroke="none" stroke-width="0" />
<path d="M635.6 443.5 L639.0 441.0 L641.9 437.8 L644.3 433.8 L646.2 429.2 L647.5 423.9 L648.2 418.1 L648.4 411.8 L647.9 405.1 L646.9 398.0 L645.2 390.6 L643.1 383.1 L640.4 375.4 L637.2 367.7 L633.5 360.0 L629.4 352.5 L624.9 345.2 L620.1 338.2 L615.1 331.6 L609.8 325.4 L604.3 319.7 L598.7 314.6 L593.1 310.2 L587.5 306.4 L582.0 303.4 L576.6 301.1 L571.4 299.6 L566.5 298.9 L561.8 299.0 L557.6 299.9 L553.7 301.6 L550.3 304.1 L547.4 307.4 L545.0 311.3 L543.1 315.9 L541.8 321.2 L541.1 327.0 L541.0 333.3 L541.4 340.0 L542.5 347.1 L544.1 354.5 L546.3 362.0 L549.0 369.7 L552.2 377.4 L555.8 385.1 L559.9 392.6 L564.4 399.9 L569.2 406.9 L574.3 413.6 L579.6 419.7 L585.0 425.4 L590.6 430.5 L596.2 434.9 L601.8 438.7 L607.4 441.7 L612.8 444.0 L617.9 445.5 L622.9 446.2 L627.5 446.1 L631.8 445.2 L635.6 443.5Z" fill="#fff" stroke="none" stroke-width="0" />
<path d="M581.5 474.8 L635.6 443.5 L553.7 301.6 L499.1 332.0Z" fill="#fff" stroke="none" stroke-width="0" />
<path d="M638.5 441.5 640.9 439.1" stroke-width="1.44"/>
<path d="M606.5 321.9 603.0 318.4" stroke-width="1.45"/>
<path d="M609.2 324.8 605.7 321.1" stroke-width="1.46"/>
<path d="M603.8 319.3 600.2 315.9" stroke-width="1.49"/>
<path d="M611.8 327.7 608.4 323.9" stroke-width="1.5"/>
<path d="M601.1 316.7 597.4 313.6" stroke-width="1.53"/>
<path d="M614.4 330.8 611.0 326.8" stroke-width="1.54"/>
<path d="M640.1 440.0 642.2 437.4" stroke-width="1.56"/>
<path d="M636.9 442.7 639.4 440.7" stroke-width="1.57"/>
<path d="M617.0 333.9 613.7 329.8 M598.4 314.3 594.7 311.3" stroke-width="1.58"/>
<path d="M619.5 337.2 616.2 333.0" stroke-width="1.61"/>
<path d="M595.6 312.1 591.9 309.3" stroke-width="1.62"/>
<path d="M621.9 340.6 618.7 336.3" stroke-width="1.64"/>
<path d="M641.5 438.4 643.5 435.5 M624.2 344.1 621.2 339.6 M592.9 310.0 589.1 307.4" stroke-width="1.67"/>
<path d="M635.1 443.8 637.9 442.0 M626.5 347.6 623.5 343.1" stroke-width="1.7"/>
<path d="M590.1 308.1 586.3 305.7" stroke-width="1.71"/>
<path d="M628.7 351.2 625.8 346.6" stroke-width="1.73"/>
<path d="M630.8 354.8 628.1 350.2" stroke-width="1.75"/>
<path d="M642.8 436.6 644.5 433.5 M587.4 306.3 583.6 304.2" stroke-width="1.76"/>
<path d="M632.8 358.6 630.2 353.8" stroke-width="1.78"/>
<path d="M634.7 362.3 632.2 357.5 M584.7 304.8 580.9 302.9 M556.1 300.4 553.2 301.9" stroke-width="1.8"/>
<path d="M636.5 366.1 634.1 361.2" stroke-width="1.82"/>
<path d="M644.0 434.6 645.5 431.3 M638.1 369.9 636.0 365.0" stroke-width="1.84"/>
<path d="M582.0 303.4 578.2 301.7" stroke-width="1.85"/>
<path d="M639.7 373.7 637.7 368.8" stroke-width="1.87"/>
<path d="M641.2 377.5 639.3 372.6 M579.3 302.2 575.6 300.7 M558.1 299.7 555.0 300.9" stroke-width="1.89"/>
<path d="M645.0 432.4 646.3 428.9 M642.5 381.3 640.7 376.3" stroke-width="1.9"/>
<path d="M643.7 385.0 642.1 380.1" stroke-width="1.92"/>
<path d="M576.7 301.1 573.0 300.0" stroke-width="1.93"/>
<path d="M645.9 430.1 647.0 426.5 M644.8 388.8 643.3 383.9" stroke-width="1.94"/>
<path d="M560.1 299.2 556.9 300.1" stroke-width="1.95"/>
<path d="M645.7 392.4 644.4 387.6 M574.2 300.3 570.5 299.4" stroke-width="1.96"/>
<path d="M646.7 427.6 647.6 423.8 M646.5 396.1 645.4 391.3" stroke-width="1.97"/>
<path d="M647.2 399.7 646.2 394.9" stroke-width="1.98"/>
<path d="M647.3 425.0 648.0 421.0 M571.7 299.6 568.0 299.0 M562.3 298.9 559.0 299.5" stroke-width="1.99"/>
<path d="M647.7 403.2 646.9 398.5" stroke-width="2.0"/>
<path d="M647.8 422.2 648.2 418.1 M648.3 409.9 648.0 406.0 647.5 402.0 M569.2 299.2 565.6 298.8 M564.5 298.8 561.1 299.1" stroke-width="2.01"/>
<path d="M648.1 419.3 648.3 415.7 648.4 412.6 648.2 408.7 M566.8 298.9 563.3 298.9" stroke-width="2.02"/>
<path d="M581.5 474.8 635.6 443.5" stroke-width="1.75"/>
<path d="M499.1 332.0 553.7 301.6" stroke-width="1.77"/>
<path d="M557.2 354.1 551.7 348.6 M523.4 452.7 528.9 458.2" stroke-width="1.44"/>
<path d="M584.2 473.0 587.8 469.5 M496.4 333.8 492.8 337.3" stroke-width="1.46"/>
<path d="M561.7 359.2 556.4 353.2 M518.9 447.6 524.2 453.6" stroke-width="1.5"/>
<path d="M552.5 349.4 546.9 344.4 M528.1 457.4 533.7 462.4" stroke-width="1.52"/>
<path d="M566.1 364.5 561.0 358.2 M514.5 442.3 519.6 448.6" stroke-width="1.57"/>
<path d="M547.8 345.2 542.0 340.6 M532.8 461.6 538.6 466.2" stroke-width="1.59"/>
<path d="M587.0 470.4 590.1 466.3 M493.6 336.4 490.5 340.5" stroke-width="1.62"/>
<path d="M570.3 370.2 565.4 363.6 M510.3 436.6 515.2 443.2" stroke-width="1.63"/>
<path d="M581.0 475.1 585.1 472.3 M499.6 331.7 495.5 334.5" stroke-width="1.66"/>
<path d="M543.0 341.3 537.1 337.3 M537.6 465.5 543.5 469.5" stroke-width="1.67"/>
<path d="M574.3 376.2 569.6 369.2 M506.3 430.6 511.0 437.6" stroke-width="1.68"/>
<path d="M578.0 382.3 573.6 375.2 M502.6 424.5 507.0 431.6" stroke-width="1.73"/>
<path d="M538.1 338.0 532.3 334.6 M542.5 468.8 548.3 472.2" stroke-width="1.75"/>
<path d="M589.5 467.3 592.1 462.5 M581.4 388.6 577.4 381.3 M491.1 339.5 488.5 344.3 M499.2 418.2 503.2 425.5" stroke-width="1.77"/>
<path d="M584.5 395.1 580.9 387.6 M533.3 335.1 527.5 332.3 M496.1 411.7 499.7 419.2 M547.3 471.7 553.1 474.5" stroke-width="1.82"/>
<path d="M503.1 330.2 498.6 332.3 M577.5 476.6 582.0 474.5" stroke-width="1.83"/>
<path d="M587.3 401.6 584.0 394.0 M493.3 405.2 496.6 412.8" stroke-width="1.86"/>
<path d="M591.6 463.6 593.7 458.4 M489.0 343.2 486.9 348.4" stroke-width="1.88"/>
<path d="M589.7 408.1 586.9 400.5 M528.6 332.8 522.8 330.6 M490.9 398.7 493.7 406.3 M552.0 474.0 557.8 476.2" stroke-width="1.89"/>
<path d="M591.8 414.6 589.3 406.9 M488.8 392.2 491.3 399.9" stroke-width="1.92"/>
<path d="M506.8 329.2 501.9 330.6 M573.8 477.6 578.7 476.2" stroke-width="1.94"/>
<path d="M593.3 459.5 594.8 453.8 M593.4 421.0 591.4 413.4 M523.9 331.0 518.2 329.4 M487.3 347.3 485.8 353.0 M487.2 385.8 489.2 393.4 M556.7 475.8 562.4 477.4" stroke-width="1.95"/>
<path d="M594.7 427.2 593.2 419.8 M485.9 379.6 487.4 387.0" stroke-width="1.98"/>
<path d="M594.6 455.0 595.6 448.9 M486.0 351.8 485.0 357.9" stroke-width="1.99"/>
<path d="M595.5 433.3 594.5 426.1 M519.4 329.7 513.8 328.9 M510.8 328.8 505.6 329.4 M485.1 373.5 486.1 380.7 M561.2 477.1 566.8 477.9 M569.8 478.0 575.0 477.4" stroke-width="2.0"/>
<path d="M595.5 450.1 595.9 443.6 M595.9 439.2 595.4 432.1 M485.1 356.7 484.7 363.2 M484.7 367.6 485.2 374.7" stroke-width="2.01"/>
<path d="M595.9 444.8 595.9 438.0 M515.0 329.0 509.6 328.9 M484.7 362.0 484.7 368.8 M565.6 477.8 571.0 477.9" stroke-width="2.02"/>
<path d="M554.6 357.1 549.2 351.7 M522.0 452.1 527.4 457.4" stroke-width="0.73"/>
<path d="M580.6 471.7 584.1 468.2 M496.0 337.5 492.5 340.9" stroke-width="0.74"/>
<path d="M559.0 361.9 553.8 356.2 M517.6 447.2 522.8 452.9" stroke-width="0.76"/>
<path d="M550.1 352.6 544.6 347.7 M526.5 456.6 532.0 461.4" stroke-width="0.77"/>
<path d="M563.2 367.1 558.2 361.0 M513.4 442.0 518.4 448.1" stroke-width="0.79"/>
<path d="M545.5 348.4 539.9 344.1 M531.1 460.7 536.7 465.1" stroke-width="0.81"/>
<path d="M583.3 469.1 586.3 465.1 M567.2 372.6 562.5 366.2 M493.3 340.0 490.3 344.0 M509.4 436.5 514.1 442.9" stroke-width="0.82"/>
<path d="M577.5 473.7 581.5 470.9 M499.1 335.5 495.1 338.2" stroke-width="0.84"/>
<path d="M571.1 378.3 566.6 371.6 M540.9 344.8 535.2 340.9 M505.5 430.8 510.0 437.5 M535.7 464.4 541.4 468.2" stroke-width="0.85"/>
<path d="M574.6 384.3 570.4 377.3 M502.0 424.9 506.2 431.8" stroke-width="0.87"/>
<path d="M536.2 341.5 530.5 338.2 M540.4 467.6 546.1 470.9" stroke-width="0.88"/>
<path d="M585.7 466.1 588.2 461.5 M490.9 343.0 488.4 347.6" stroke-width="0.89"/>
<path d="M577.9 390.4 574.0 383.2 M498.7 418.8 502.6 425.9" stroke-width="0.9"/>
<path d="M580.9 396.6 577.4 389.3 M531.6 338.8 525.9 336.0 M502.4 334.0 498.1 336.1 M495.7 412.6 499.2 419.8 M545.0 470.3 550.7 473.1 M574.2 475.1 578.5 473.1" stroke-width="0.92"/>
<path d="M583.6 402.8 580.4 395.5 M493.0 406.3 496.2 413.7" stroke-width="0.94"/>
<path d="M587.7 462.6 589.7 457.5 M488.9 346.5 486.9 351.6" stroke-width="0.95"/>
<path d="M585.9 409.1 583.2 401.7 M527.0 336.5 521.4 334.4 M490.7 400.0 493.4 407.4 M549.6 472.6 555.2 474.7" stroke-width="0.96"/>
<path d="M587.9 415.3 585.6 408.0 M488.7 393.8 491.0 401.2" stroke-width="0.97"/>
<path d="M506.0 333.1 501.3 334.4 M570.6 476.1 575.3 474.7" stroke-width="0.98"/>
<path d="M589.4 458.7 590.9 453.1 M589.5 421.5 587.6 414.2 M522.5 334.8 517.0 333.3 M487.2 350.5 485.7 356.0 M487.1 387.6 489.0 394.9 M554.1 474.4 559.6 475.8" stroke-width="0.99"/>
<path d="M590.7 427.5 589.2 420.3 M485.9 381.6 487.4 388.8" stroke-width="1.0"/>
<path d="M590.6 454.3 591.6 448.4 M591.5 433.4 590.5 426.4 M518.1 333.5 512.7 332.7 M509.9 332.7 504.9 333.3 M486.0 354.8 485.0 360.8 M485.1 375.7 486.1 382.8 M558.5 475.6 563.9 476.4 M566.7 476.4 571.7 475.8" stroke-width="1.01"/>
<path d="M591.4 449.6 591.9 443.9 591.9 438.5 591.4 432.2 M513.9 332.8 508.7 332.7 M485.2 359.6 484.7 365.3 484.7 370.6 485.2 376.9 M562.7 476.3 567.9 476.4" stroke-width="1.02"/>
<path d="M583.6 470.3 586.1 467.8 M555.6 354.5 552.0 350.9" stroke-width="0.73"/>
<path d="M558.4 357.4 554.8 353.6" stroke-width="0.75"/>
<path d="M552.9 351.7 549.2 348.3" stroke-width="0.76"/>
<path d="M561.0 360.4 557.5 356.5" stroke-width="0.77"/>
<path d="M550.1 349.1 546.3 345.9" stroke-width="0.78"/>
<path d="M585.3 468.7 587.5 466.0 M563.7 363.6 560.2 359.5" stroke-width="0.79"/>
<path d="M581.8 471.7 584.5 469.5 M547.2 346.7 543.4 343.6" stroke-width="0.8"/>
<path d="M566.2 366.8 562.9 362.6" stroke-width="0.81"/>
<path d="M568.7 370.2 565.5 365.9" stroke-width="0.82"/>
<path d="M544.4 344.4 540.6 341.6" stroke-width="0.83"/>
<path d="M586.8 466.9 588.8 464.0 M571.1 373.7 568.0 369.2" stroke-width="0.84"/>
<path d="M579.9 472.8 582.8 470.9 M541.5 342.2 537.7 339.6" stroke-width="0.85"/>
<path d="M573.4 377.2 570.4 372.7" stroke-width="0.86"/>
<path d="M575.6 380.8 572.7 376.2 M538.7 340.3 534.8 337.9" stroke-width="0.87"/>
<path d="M577.7 384.5 575.0 379.8" stroke-width="0.88"/>
<path d="M588.2 465.0 590.0 461.8" stroke-width="0.89"/>
<path d="M579.8 388.3 577.1 383.5 M535.8 338.5 531.9 336.4" stroke-width="0.9"/>
<path d="M577.9 473.8 580.9 472.2 M581.7 392.1 579.2 387.2" stroke-width="0.91"/>
<path d="M583.4 395.9 581.1 391.0 M533.0 336.9 529.1 335.0" stroke-width="0.92"/>
<path d="M589.5 462.9 591.1 459.5" stroke-width="0.93"/>
<path d="M585.1 399.7 582.9 394.8 M530.2 335.5 526.3 333.8" stroke-width="0.94"/>
<path d="M575.8 474.6 579.0 473.3 M590.6 460.6 591.9 457.0 M586.6 403.6 584.6 398.6" stroke-width="0.95"/>
<path d="M588.1 407.4 586.2 402.5 M527.4 334.3 523.5 332.9" stroke-width="0.96"/>
<path d="M589.3 411.3 587.7 406.3" stroke-width="0.97"/>
<path d="M573.6 475.2 576.9 474.2 M591.6 458.1 592.7 454.3 M590.5 415.1 589.0 410.1 M524.6 333.3 520.8 332.1" stroke-width="0.98"/>
<path d="M592.4 455.5 593.3 451.6 M592.3 422.6 591.3 418.3 590.1 413.9" stroke-width="0.99"/>
<path d="M571.3 475.5 574.8 474.9 M593.0 426.3 592.0 421.5 M521.9 332.4 518.1 331.6" stroke-width="1.0"/>
<path d="M593.1 452.7 593.7 449.2 594.1 445.6 M593.9 433.5 593.4 429.4 592.8 425.1 M519.3 331.8 515.5 331.2" stroke-width="1.01"/>
<path d="M568.9 475.7 572.5 475.4 M594.0 446.8 594.2 443.0 594.2 439.8 594.1 436.4 593.8 432.3 M516.7 331.4 513.6 331.1 510.5 331.1" stroke-width="1.02"/>
<ellipse cx="565.2" cy="324.4" rx="4.6" ry="3.8" fill="none" stroke="#000" stroke-width="1.8"/>
<path d="M537.2 435.2 L538.3 434.3 L539.3 433.3 L540.1 432.0 L540.8 430.5 L541.2 428.9 L541.5 427.0 L541.6 425.0 L541.5 422.9 L541.3 420.6 L540.8 418.3 L540.1 415.9 L539.3 413.5 L538.3 411.1 L537.2 408.7 L535.9 406.3 L534.5 404.1 L533.0 401.9 L531.4 399.8 L529.7 397.9 L528.0 396.1 L526.2 394.6 L524.4 393.2 L522.6 392.1 L520.8 391.1 L519.1 390.5 L517.4 390.0 L515.8 389.8 L514.3 389.9 L512.9 390.2 L511.6 390.8 L510.5 391.6 L509.5 392.7 L508.7 394.0 L508.0 395.4 L507.6 397.1 L507.3 399.0 L507.2 401.0 L507.3 403.1 L507.5 405.3 L508.0 407.7 L508.7 410.1 L509.5 412.5 L510.5 414.9 L511.6 417.3 L512.9 419.6 L514.3 421.9 L515.8 424.1 L517.4 426.2 L519.1 428.1 L520.8 429.8 L522.6 431.4 L524.4 432.8 L526.2 433.9 L528.0 434.8 L529.7 435.5 L531.4 436.0 L533.0 436.1 L534.5 436.1 L535.9 435.7 L537.2 435.2Z" fill="#fff" stroke="none" stroke-width="0" />
<path d="M552.2 426.4 L553.3 425.6 L554.3 424.6 L555.1 423.3 L555.8 421.8 L556.2 420.1 L556.5 418.3 L556.6 416.3 L556.5 414.2 L556.3 411.9 L555.8 409.6 L555.1 407.2 L554.3 404.8 L553.3 402.4 L552.2 400.0 L550.9 397.6 L549.5 395.3 L548.0 393.1 L546.4 391.1 L544.7 389.2 L543.0 387.4 L541.2 385.8 L539.4 384.5 L537.6 383.3 L535.8 382.4 L534.1 381.7 L532.4 381.3 L530.8 381.1 L529.3 381.2 L527.9 381.5 L526.6 382.1 L525.5 382.9 L524.5 384.0 L523.7 385.2 L523.0 386.7 L522.6 388.4 L522.3 390.2 L522.2 392.2 L522.3 394.4 L522.5 396.6 L523.0 398.9 L523.7 401.3 L524.5 403.7 L525.5 406.2 L526.6 408.6 L527.9 410.9 L529.3 413.2 L530.8 415.4 L532.4 417.4 L534.1 419.4 L535.8 421.1 L537.6 422.7 L539.4 424.0 L541.2 425.2 L543.0 426.1 L544.7 426.8 L546.4 427.2 L548.0 427.4 L549.5 427.3 L550.9 427.0 L552.2 426.4Z" fill="#fff" stroke="none" stroke-width="0" />
<path d="M537.2 435.2 L552.2 426.4 L526.6 382.1 L511.6 390.8Z" fill="#fff" stroke="none" stroke-width="0" />
<path d="M545.1 389.6 542.6 387.0" stroke-width="0.73"/>
<path d="M552.9 426.1 554.7 424.1" stroke-width="0.75"/>
<path d="M546.8 391.5 544.3 388.7 M543.4 387.8 540.8 385.5" stroke-width="0.77"/>
<path d="M548.4 393.6 546.0 390.6" stroke-width="0.81"/>
<path d="M541.7 386.2 538.9 384.1" stroke-width="0.82"/>
<path d="M551.7 426.8 553.8 425.3" stroke-width="0.83"/>
<path d="M549.9 395.8 547.7 392.7" stroke-width="0.84"/>
<path d="M554.0 425.1 555.5 422.8 M539.9 384.8 537.1 383.0" stroke-width="0.86"/>
<path d="M551.2 398.1 549.2 394.8" stroke-width="0.87"/>
<path d="M552.5 400.5 550.6 397.1" stroke-width="0.9"/>
<path d="M538.1 383.6 535.3 382.1" stroke-width="0.91"/>
<path d="M553.6 402.9 551.9 399.4" stroke-width="0.92"/>
<path d="M528.4 381.3 526.1 382.3" stroke-width="0.93"/>
<path d="M554.9 423.8 556.0 421.3" stroke-width="0.94"/>
<path d="M554.5 405.3 553.1 401.8 M536.4 382.6 533.5 381.5" stroke-width="0.95"/>
<path d="M555.3 407.8 554.1 404.2" stroke-width="0.97"/>
<path d="M555.6 422.4 556.4 419.6" stroke-width="0.98"/>
<path d="M555.9 410.2 555.0 406.6 M534.7 381.9 531.8 381.2 M529.9 381.1 527.3 381.7" stroke-width="0.99"/>
<path d="M556.4 412.5 555.7 409.0" stroke-width="1.0"/>
<path d="M556.2 420.7 556.6 417.7 M556.6 414.7 556.2 411.3 M533.0 381.4 530.2 381.1" stroke-width="1.01"/>
<path d="M556.5 418.9 556.6 416.3 556.5 413.6 M531.4 381.1 528.7 381.2" stroke-width="1.02"/>
<path d="M537.2 435.2 552.2 426.4" stroke-width="0.88"/>
<path d="M511.6 390.8 526.6 382.1" stroke-width="0.88"/>
<path d="M547.7 429.2 550.8 426.4 M540.6 391.4 535.9 387.2" stroke-width="0.76"/>
<path d="M544.1 395.7 539.7 390.6" stroke-width="0.78"/>
<path d="M547.2 400.5 543.4 394.7 M536.8 387.9 532.0 384.8" stroke-width="0.86"/>
<path d="M549.7 405.6 546.6 399.5" stroke-width="0.91"/>
<path d="M550.1 427.3 552.1 423.2" stroke-width="0.92"/>
<path d="M551.4 410.8 549.2 404.5 M533.0 385.4 528.2 383.6" stroke-width="0.96"/>
<path d="M526.0 383.4 521.9 384.7" stroke-width="0.97"/>
<path d="M552.4 415.9 551.1 409.7" stroke-width="1.0"/>
<path d="M551.7 424.3 552.6 419.2" stroke-width="1.01"/>
<path d="M552.5 420.4 552.3 414.7 M529.4 383.8 524.8 383.5" stroke-width="1.02"/>
<path d="M543.9 431.4 547.0 428.6 M536.8 393.6 532.1 389.4" stroke-width="0.76"/>
<path d="M540.3 397.9 535.9 392.8" stroke-width="0.78"/>
<path d="M543.4 402.7 539.6 396.9 M533.0 390.2 528.2 387.1" stroke-width="0.86"/>
<path d="M545.9 407.8 542.8 401.7" stroke-width="0.91"/>
<path d="M546.3 429.5 548.3 425.4" stroke-width="0.92"/>
<path d="M547.6 413.0 545.4 406.7 M529.2 387.6 524.4 385.8" stroke-width="0.96"/>
<path d="M522.2 385.6 518.1 386.9" stroke-width="0.97"/>
<path d="M548.6 418.1 547.3 411.9" stroke-width="1.0"/>
<path d="M547.9 426.5 548.8 421.5" stroke-width="1.01"/>
<path d="M548.7 422.6 548.5 416.9 M525.6 386.0 521.0 385.7" stroke-width="1.02"/>
<path d="M531.8 394.3 528.8 391.4" stroke-width="0.73"/>
<path d="M540.9 438.0 543.0 435.9" stroke-width="0.74"/>
<path d="M533.8 396.7 530.9 393.5" stroke-width="0.77"/>
<path d="M529.7 392.2 526.6 389.5" stroke-width="0.78"/>
<path d="M510.1 385.6 507.8 387.4" stroke-width="0.79"/>
<path d="M535.7 399.2 533.0 395.7" stroke-width="0.81"/>
<path d="M527.6 390.3 524.4 388.0" stroke-width="0.82"/>
<path d="M542.2 436.8 543.9 434.4 M537.5 401.8 535.0 398.2" stroke-width="0.84"/>
<path d="M539.4 438.8 541.8 437.2 M539.2 404.6 536.8 400.8 M525.4 388.6 522.2 386.7" stroke-width="0.87"/>
<path d="M540.7 407.4 538.6 403.5" stroke-width="0.9"/>
<path d="M511.6 384.9 509.1 386.3" stroke-width="0.91"/>
<path d="M543.3 435.4 544.7 432.6 M542.0 410.4 540.1 406.4 M523.3 387.2 520.0 385.7" stroke-width="0.92"/>
<path d="M543.1 413.3 541.5 409.3" stroke-width="0.95"/>
<path d="M537.7 439.2 540.5 438.2 M521.1 386.1 517.9 384.9" stroke-width="0.96"/>
<path d="M544.1 416.2 542.7 412.2" stroke-width="0.97"/>
<path d="M544.3 433.7 545.2 430.6 M513.3 384.6 510.5 385.4" stroke-width="0.98"/>
<path d="M544.8 419.1 543.7 415.1" stroke-width="0.99"/>
<path d="M544.9 431.8 545.5 428.4 M545.3 421.9 544.5 417.9 M519.1 385.3 515.9 384.6" stroke-width="1.0"/>
<path d="M545.6 424.6 545.1 420.7" stroke-width="1.01"/>
<path d="M545.4 429.6 545.6 426.6 545.5 423.4 M517.1 384.7 514.5 384.6 512.2 384.8" stroke-width="1.02"/>
<path d="M494.8 465.6 L496.2 464.6 L497.3 463.4 L498.3 461.9 L499.1 460.1 L499.6 458.1 L500.0 455.9 L500.1 453.5 L500.0 450.9 L499.6 448.2 L499.1 445.5 L498.3 442.6 L497.3 439.7 L496.2 436.8 L494.8 434.0 L493.3 431.2 L491.6 428.4 L489.8 425.8 L487.9 423.4 L485.9 421.1 L483.8 419.0 L481.7 417.1 L479.5 415.5 L477.4 414.1 L475.2 413.0 L473.1 412.2 L471.1 411.7 L469.2 411.4 L467.4 411.5 L465.7 411.9 L464.2 412.6 L462.8 413.6 L461.7 414.8 L460.7 416.4 L459.9 418.1 L459.4 420.1 L459.0 422.3 L458.9 424.7 L459.0 427.3 L459.4 430.0 L459.9 432.7 L460.7 435.6 L461.7 438.5 L462.8 441.4 L464.2 444.3 L465.7 447.1 L467.4 449.8 L469.2 452.4 L471.1 454.9 L473.1 457.2 L475.2 459.2 L477.3 461.1 L479.5 462.8 L481.6 464.1 L483.8 465.2 L485.9 466.0 L487.9 466.6 L489.8 466.8 L491.6 466.7 L493.3 466.3 L494.8 465.6Z" fill="#fff" stroke="none" stroke-width="0" />
<path d="M538.9 439.4 L540.3 438.4 L541.4 437.1 L542.4 435.6 L543.2 433.8 L543.7 431.8 L544.1 429.6 L544.2 427.2 L544.1 424.7 L543.7 422.0 L543.2 419.2 L542.4 416.4 L541.4 413.5 L540.3 410.6 L538.9 407.7 L537.4 404.9 L535.7 402.2 L533.9 399.6 L532.0 397.1 L530.0 394.8 L527.9 392.7 L525.8 390.8 L523.6 389.2 L521.5 387.8 L519.3 386.7 L517.2 385.9 L515.2 385.4 L513.3 385.2 L511.5 385.3 L509.8 385.7 L508.3 386.3 L506.9 387.3 L505.8 388.6 L504.8 390.1 L504.0 391.9 L503.5 393.9 L503.1 396.1 L503.0 398.5 L503.1 401.0 L503.5 403.7 L504.0 406.5 L504.8 409.3 L505.8 412.2 L506.9 415.1 L508.3 418.0 L509.8 420.8 L511.5 423.5 L513.3 426.1 L515.2 428.6 L517.2 430.9 L519.3 433.0 L521.4 434.9 L523.6 436.5 L525.7 437.9 L527.9 439.0 L530.0 439.8 L532.0 440.3 L533.9 440.5 L535.7 440.4 L537.4 440.0 L538.9 439.4Z" fill="#fff" stroke="none" stroke-width="0" />
<path d="M494.8 465.6 L538.9 439.4 L508.3 386.3 L464.2 412.6Z" fill="#fff" stroke="none" stroke-width="0" />
<path d="M530.4 395.2 527.5 392.3" stroke-width="1.44"/>
<path d="M539.8 438.8 541.8 436.7" stroke-width="1.48"/>
<path d="M532.4 397.5 529.6 394.4 M528.3 393.1 525.3 390.4" stroke-width="1.52"/>
<path d="M534.3 400.0 531.6 396.6" stroke-width="1.6"/>
<path d="M526.2 391.2 523.1 388.8" stroke-width="1.61"/>
<path d="M538.4 439.7 540.7 438.0" stroke-width="1.64"/>
<path d="M536.0 402.7 533.6 399.1" stroke-width="1.66"/>
<path d="M541.1 437.6 542.7 435.1" stroke-width="1.7"/>
<path d="M524.1 389.5 520.9 387.5" stroke-width="1.71"/>
<path d="M537.7 405.4 535.4 401.7" stroke-width="1.72"/>
<path d="M539.2 408.2 537.1 404.4" stroke-width="1.78"/>
<path d="M522.0 388.1 518.8 386.5" stroke-width="1.8"/>
<path d="M540.5 411.1 538.6 407.2" stroke-width="1.83"/>
<path d="M510.4 385.4 507.8 386.6" stroke-width="1.84"/>
<path d="M542.2 436.1 543.4 433.3" stroke-width="1.85"/>
<path d="M541.7 414.0 540.0 410.0" stroke-width="1.87"/>
<path d="M519.9 387.0 516.7 385.7" stroke-width="1.88"/>
<path d="M542.6 416.9 541.2 412.9" stroke-width="1.91"/>
<path d="M543.0 434.4 543.9 431.2 M543.3 419.8 542.3 415.8" stroke-width="1.95"/>
<path d="M517.8 386.1 514.6 385.3" stroke-width="1.96"/>
<path d="M512.1 385.1 509.2 385.8" stroke-width="1.97"/>
<path d="M543.9 422.6 543.1 418.6" stroke-width="1.98"/>
<path d="M543.6 432.4 544.2 429.0 M544.2 425.3 543.7 421.4" stroke-width="2.0"/>
<path d="M515.8 385.5 512.7 385.1" stroke-width="2.01"/>
<path d="M544.0 430.2 544.2 427.2 544.1 424.1 M513.9 385.2 510.9 385.3" stroke-width="2.02"/>
<path d="M494.8 465.6 538.9 439.4" stroke-width="1.74"/>
<path d="M464.2 412.6 508.3 386.3" stroke-width="1.74"/>
<path d="M523.8 508.0 526.2 505.6 M491.8 388.3 488.3 384.8" stroke-width="0.73"/>
<path d="M494.5 391.2 491.0 387.5" stroke-width="0.74"/>
<path d="M497.1 394.1 493.7 390.3 M489.1 385.7 485.5 382.3" stroke-width="0.76"/>
<path d="M499.7 397.2 496.4 393.2 M486.4 383.1 482.7 380.0" stroke-width="0.78"/>
<path d="M525.4 506.5 527.5 503.9" stroke-width="0.79"/>
<path d="M522.2 509.2 524.7 507.2 M502.3 400.4 499.0 396.3 M483.7 380.7 479.9 377.8 M437.7 368.9 435.2 370.9" stroke-width="0.8"/>
<path d="M504.8 403.6 501.5 399.4" stroke-width="0.81"/>
<path d="M480.9 378.5 477.2 375.7" stroke-width="0.82"/>
<path d="M507.2 407.0 504.1 402.7" stroke-width="0.83"/>
<path d="M526.8 504.9 528.8 502.0 M478.1 376.4 474.4 373.8" stroke-width="0.84"/>
<path d="M509.5 410.5 506.5 406.0" stroke-width="0.85"/>
<path d="M520.4 510.3 523.1 508.5 M511.8 414.0 508.9 409.5 M439.5 367.8 436.8 369.6" stroke-width="0.86"/>
<path d="M514.0 417.6 511.2 413.0 M475.4 374.5 471.6 372.1" stroke-width="0.87"/>
<path d="M528.1 503.1 529.8 500.0 M516.1 421.3 513.4 416.6 M472.7 372.7 468.9 370.6" stroke-width="0.89"/>
<path d="M518.1 425.0 515.5 420.2" stroke-width="0.9"/>
<path d="M518.5 511.2 521.4 509.7 M520.0 428.8 517.5 423.9 M469.9 371.2 466.2 369.3 M441.4 366.9 438.5 368.4" stroke-width="0.91"/>
<path d="M521.8 432.5 519.5 427.7" stroke-width="0.92"/>
<path d="M529.3 501.1 530.8 497.8 M523.5 436.3 521.3 431.4 M467.3 369.8 463.5 368.1" stroke-width="0.93"/>
<path d="M525.1 440.1 523.0 435.2" stroke-width="0.94"/>
<path d="M516.5 511.8 519.6 510.7 M526.5 443.9 524.6 439.0 M443.3 366.2 440.3 367.4" stroke-width="0.95"/>
<path d="M530.3 498.9 531.6 495.4 M527.8 447.7 526.1 442.8 M464.6 368.6 460.9 367.2" stroke-width="0.96"/>
<path d="M529.0 451.5 527.4 446.6 M462.0 367.5 458.3 366.4" stroke-width="0.97"/>
<path d="M531.3 496.6 532.3 493.0 M530.1 455.2 528.7 450.4 M445.4 365.7 442.2 366.6" stroke-width="0.98"/>
<path d="M531.0 458.9 529.8 454.1 M459.4 366.7 455.8 365.8" stroke-width="0.99"/>
<path d="M532.0 494.1 532.9 490.3 M532.5 466.2 531.7 462.0 530.8 457.8" stroke-width="1.0"/>
<path d="M532.6 491.5 533.2 488.1 533.6 484.6 M533.4 473.1 532.9 469.1 532.3 465.0 M456.9 366.1 453.3 365.4 M447.6 365.4 444.2 365.9" stroke-width="1.01"/>
<path d="M533.5 485.8 533.7 482.2 533.7 479.1 533.6 475.8 533.3 471.9 M454.5 365.6 451.5 365.3 449.2 365.3 446.4 365.5" stroke-width="1.02"/>
<path d="M489.8 528.8 L493.4 526.2 L496.5 522.8 L499.1 518.7 L501.1 514.0 L502.6 508.6 L503.5 502.6 L503.8 496.2 L503.4 489.3 L502.5 482.1 L501.0 474.6 L498.8 466.9 L496.2 459.1 L493.0 451.3 L489.3 443.5 L485.2 435.9 L480.7 428.6 L475.8 421.5 L470.6 414.9 L465.2 408.7 L459.6 403.0 L453.9 397.9 L448.1 393.5 L442.3 389.8 L436.6 386.8 L431.0 384.5 L425.6 383.1 L420.4 382.5 L415.6 382.7 L411.1 383.8 L407.0 385.6 L403.4 388.2 L400.3 391.6 L397.7 395.7 L395.7 400.4 L394.2 405.8 L393.3 411.8 L393.0 418.2 L393.4 425.1 L394.3 432.3 L395.8 439.8 L398.0 447.5 L400.6 455.3 L403.8 463.1 L407.5 470.9 L411.6 478.5 L416.1 485.8 L421.0 492.9 L426.2 499.5 L431.6 505.7 L437.2 511.4 L442.9 516.5 L448.7 520.9 L454.5 524.6 L460.2 527.6 L465.8 529.9 L471.2 531.3 L476.4 531.9 L481.2 531.7 L485.7 530.6 L489.8 528.8Z" fill="#fff" stroke="none" stroke-width="0" />
<path d="M519.6 510.8 L523.0 508.3 L525.9 505.0 L528.3 501.1 L530.2 496.5 L531.5 491.2 L532.2 485.4 L532.4 479.1 L531.9 472.3 L530.9 465.2 L529.2 457.9 L527.1 450.3 L524.4 442.6 L521.2 434.9 L517.5 427.2 L513.4 419.7 L508.9 412.3 L504.1 405.3 L499.0 398.7 L493.7 392.5 L488.2 386.8 L482.7 381.8 L477.0 377.3 L471.4 373.5 L465.9 370.5 L460.5 368.2 L455.3 366.7 L450.4 366.0 L445.7 366.1 L441.5 367.0 L437.6 368.7 L434.2 371.2 L431.3 374.5 L428.9 378.4 L427.0 383.0 L425.7 388.3 L425.0 394.1 L424.8 400.4 L425.3 407.2 L426.3 414.3 L428.0 421.6 L430.1 429.2 L432.8 436.9 L436.0 444.6 L439.7 452.3 L443.8 459.8 L448.3 467.2 L453.1 474.2 L458.2 480.8 L463.5 487.0 L469.0 492.7 L474.5 497.7 L480.2 502.2 L485.8 506.0 L491.3 509.0 L496.7 511.3 L501.9 512.8 L506.8 513.5 L511.5 513.4 L515.7 512.5 L519.6 510.8Z" fill="#fff" stroke="none" stroke-width="0" />
<path d="M489.8 528.8 L519.6 510.8 L437.6 368.7 L407.0 385.6Z" fill="#fff" stroke="none" stroke-width="0" />
<path d="M522.5 508.7 524.9 506.4" stroke-width="1.44"/>
<path d="M490.5 389.1 486.9 385.5" stroke-width="1.45"/>
<path d="M493.2 391.9 489.6 388.2" stroke-width="1.46"/>
<path d="M487.8 386.4 484.1 383.0" stroke-width="1.49"/>
<path d="M495.8 394.8 492.3 391.0" stroke-width="1.5"/>
<path d="M485.0 383.8 481.4 380.7" stroke-width="1.53"/>
<path d="M498.4 397.9 495.0 393.9" stroke-width="1.54"/>
<path d="M524.1 507.3 526.2 504.7" stroke-width="1.56"/>
<path d="M520.9 510.0 523.4 507.9" stroke-width="1.57"/>
<path d="M500.9 401.1 497.6 397.0 M482.3 381.4 478.6 378.5" stroke-width="1.58"/>
<path d="M503.4 404.4 500.2 400.1" stroke-width="1.61"/>
<path d="M479.5 379.2 475.8 376.4" stroke-width="1.62"/>
<path d="M505.8 407.7 502.7 403.4" stroke-width="1.64"/>
<path d="M525.5 505.6 527.4 502.8 M508.2 411.2 505.1 406.8 M476.8 377.1 473.0 374.5" stroke-width="1.67"/>
<path d="M519.1 511.1 521.8 509.3 M510.5 414.7 507.5 410.2" stroke-width="1.7"/>
<path d="M474.0 375.2 470.3 372.8" stroke-width="1.71"/>
<path d="M512.6 418.4 509.8 413.7" stroke-width="1.73"/>
<path d="M514.7 422.0 512.0 417.3" stroke-width="1.75"/>
<path d="M526.8 503.8 528.5 500.8 M471.3 373.4 467.5 371.3" stroke-width="1.76"/>
<path d="M516.7 425.7 514.2 421.0" stroke-width="1.78"/>
<path d="M518.6 429.5 516.2 424.7 M468.6 371.9 464.8 370.0 M440.0 367.5 437.1 369.0" stroke-width="1.8"/>
<path d="M520.4 433.3 518.1 428.4" stroke-width="1.82"/>
<path d="M528.0 501.8 529.5 498.6 M522.1 437.1 519.9 432.2" stroke-width="1.84"/>
<path d="M465.9 370.5 462.1 368.8" stroke-width="1.85"/>
<path d="M523.7 440.9 521.7 436.0" stroke-width="1.87"/>
<path d="M525.2 444.7 523.3 439.7 M463.2 369.3 459.5 367.8 M442.0 366.8 438.9 368.0" stroke-width="1.89"/>
<path d="M529.0 499.7 530.3 496.2 M526.5 448.5 524.7 443.5" stroke-width="1.9"/>
<path d="M527.7 452.2 526.1 447.3" stroke-width="1.92"/>
<path d="M460.6 368.2 456.9 367.1" stroke-width="1.93"/>
<path d="M529.9 497.4 531.0 493.7 M528.8 456.0 527.3 451.1" stroke-width="1.94"/>
<path d="M444.0 366.3 440.8 367.2" stroke-width="1.95"/>
<path d="M529.7 459.7 528.4 454.8 M458.1 367.4 454.4 366.5" stroke-width="1.96"/>
<path d="M530.7 494.9 531.6 491.1 M530.5 463.3 529.4 458.5" stroke-width="1.97"/>
<path d="M531.2 466.9 530.2 462.1" stroke-width="1.98"/>
<path d="M531.3 492.2 532.0 488.3 M455.6 366.7 451.9 366.1 M446.2 366.0 442.9 366.6" stroke-width="1.99"/>
<path d="M531.7 470.4 530.9 465.7" stroke-width="2.0"/>
<path d="M531.8 489.5 532.2 485.4 M532.3 477.2 532.0 473.2 531.5 469.2 M453.1 366.3 449.5 365.9 M448.4 365.9 445.0 366.2" stroke-width="2.01"/>
<path d="M532.1 486.6 532.3 483.0 532.4 479.8 532.2 476.0 M450.7 366.0 447.2 366.0" stroke-width="2.02"/>
<path d="M489.8 528.8 519.6 510.8" stroke-width="1.73"/>
<path d="M407.0 385.6 437.6 368.7" stroke-width="1.77"/>
<path d="M464.7 408.1 459.2 402.6 M432.1 506.3 437.6 511.8" stroke-width="1.43"/>
<path d="M492.4 527.1 495.9 523.6 M404.4 387.3 400.9 390.8" stroke-width="1.45"/>
<path d="M469.3 413.2 463.9 407.2 M460.1 403.4 454.4 398.3 M427.5 501.2 432.9 507.2 M436.7 511.0 442.4 516.1" stroke-width="1.51"/>
<path d="M473.6 418.6 468.5 412.3 M423.2 495.8 428.3 502.1" stroke-width="1.57"/>
<path d="M455.3 399.1 449.6 394.5 M441.5 515.3 447.2 519.9" stroke-width="1.59"/>
<path d="M495.2 524.5 498.2 520.4 M401.6 389.9 398.6 394.0" stroke-width="1.62"/>
<path d="M477.8 424.3 472.9 417.7 M419.0 490.1 423.9 496.7" stroke-width="1.63"/>
<path d="M489.3 529.2 493.3 526.4 M450.5 395.2 444.7 391.2 M407.5 385.2 403.5 388.0 M446.3 519.2 452.1 523.2" stroke-width="1.66"/>
<path d="M481.8 430.3 477.1 423.3 M415.0 484.1 419.7 491.1" stroke-width="1.68"/>
<path d="M485.5 436.5 481.2 429.3 M411.3 477.9 415.6 485.1" stroke-width="1.73"/>
<path d="M445.7 391.8 439.9 388.4 M451.1 522.6 456.9 526.0" stroke-width="1.74"/>
<path d="M489.0 442.8 484.9 435.4 M407.8 471.6 411.9 479.0" stroke-width="1.77"/>
<path d="M497.6 521.4 500.1 516.7 M399.2 393.0 396.7 397.7" stroke-width="1.78"/>
<path d="M440.9 388.9 435.1 386.1 M455.9 525.5 461.7 528.3" stroke-width="1.81"/>
<path d="M492.1 449.2 488.4 441.7 M404.7 465.2 408.4 472.7" stroke-width="1.82"/>
<path d="M411.0 383.7 406.5 385.8 M485.8 530.7 490.3 528.6" stroke-width="1.83"/>
<path d="M494.9 455.8 491.6 448.2 M401.9 458.6 405.2 466.2" stroke-width="1.85"/>
<path d="M499.6 517.8 501.6 512.6 M497.3 462.3 494.4 454.6 M436.2 386.6 430.4 384.3 M397.2 396.6 395.2 401.8 M399.5 452.1 402.4 459.8 M460.6 527.8 466.4 530.1" stroke-width="1.89"/>
<path d="M499.4 468.8 497.0 461.2 M397.4 445.6 399.8 453.2" stroke-width="1.92"/>
<path d="M501.1 475.2 499.1 467.6 M431.6 384.7 425.9 383.1 M414.6 382.8 409.8 384.2 M395.7 439.2 397.7 446.8 M465.2 529.7 470.9 531.3 M482.2 531.6 487.0 530.2" stroke-width="1.95"/>
<path d="M501.3 513.7 502.8 508.0 M395.5 400.7 394.0 406.4" stroke-width="1.96"/>
<path d="M502.4 481.5 500.8 474.0 M394.4 432.9 396.0 440.4" stroke-width="1.98"/>
<path d="M502.5 509.2 503.5 503.1 M503.3 487.5 502.2 480.3 M427.1 383.4 421.5 382.5 M394.3 405.2 393.3 411.3 M393.5 426.9 394.6 434.1 M469.7 531.0 475.3 531.9" stroke-width="2.0"/>
<path d="M503.7 493.4 503.1 486.4 M418.6 382.4 413.5 383.0 M393.1 421.0 393.7 428.0 M478.2 532.0 483.3 531.4" stroke-width="2.01"/>
<path d="M503.3 504.3 503.7 498.4 503.7 492.2 M422.7 382.6 417.4 382.5 M393.5 410.1 393.1 416.0 393.1 422.2 M474.1 531.8 479.4 531.9" stroke-width="2.02"/>
<path d="M467.1 523.1 L469.6 521.3 L471.8 519.2 L473.7 516.7 L475.3 513.7 L476.6 510.5 L477.5 506.8 L478.2 502.9 L478.5 498.7 L478.5 494.2 L478.1 489.5 L477.4 484.6 L476.3 479.6 L475.0 474.5 L473.3 469.3 L471.4 464.1 L469.1 458.9 L466.6 453.8 L463.8 448.7 L460.8 443.8 L457.6 439.1 L454.3 434.5 L450.7 430.2 L447.1 426.2 L443.3 422.5 L439.5 419.1 L435.7 416.0 L431.8 413.3 L427.9 411.1 L424.1 409.2 L420.4 407.8 L416.8 406.8 L413.3 406.3 L409.9 406.2 L406.8 406.6 L403.8 407.5 L401.1 408.7 L398.6 410.5 L396.4 412.6 L394.5 415.1 L392.9 418.1 L391.6 421.3 L390.7 425.0 L390.0 428.9 L389.7 433.1 L389.7 437.6 L390.1 442.3 L390.8 447.2 L391.9 452.2 L393.2 457.3 L394.9 462.5 L396.8 467.7 L399.1 472.9 L401.6 478.0 L404.4 483.1 L407.4 488.0 L410.6 492.7 L413.9 497.3 L417.5 501.6 L421.1 505.6 L424.9 509.3 L428.7 512.7 L432.5 515.8 L436.4 518.5 L440.3 520.7 L444.1 522.6 L447.8 524.0 L451.4 525.0 L454.9 525.5 L458.3 525.6 L461.4 525.2 L464.4 524.3 L467.1 523.1Z" fill="#fff" stroke="none" stroke-width="0" />
<path d="M447.5 426.6 442.9 422.0 M420.7 505.2 425.3 509.8" stroke-width="1.44"/>
<path d="M469.1 521.8 472.2 518.8 M399.1 410.0 396.0 413.0" stroke-width="1.45"/>
<path d="M451.1 430.7 446.7 425.7 M417.1 501.1 421.5 506.1" stroke-width="1.5"/>
<path d="M443.8 422.9 439.1 418.7 M424.4 508.9 429.1 513.1" stroke-width="1.51"/>
<path d="M454.6 435.0 450.4 429.8 M413.6 496.8 417.8 502.0" stroke-width="1.57"/>
<path d="M440.0 419.4 435.2 415.6 M428.2 512.4 433.0 516.2" stroke-width="1.59"/>
<path d="M471.4 519.7 474.0 516.2 M396.8 412.1 394.2 415.6" stroke-width="1.62"/>
<path d="M458.0 439.6 453.9 434.0 M410.2 492.2 414.3 497.8" stroke-width="1.63"/>
<path d="M466.6 523.4 470.1 521.0 M401.6 408.4 398.1 410.8" stroke-width="1.66"/>
<path d="M436.2 416.4 431.3 413.0 M432.0 515.4 436.9 518.8" stroke-width="1.67"/>
<path d="M461.2 444.3 457.3 438.6 M407.0 487.5 410.9 493.2" stroke-width="1.68"/>
<path d="M464.1 449.3 460.5 443.3 M404.1 482.5 407.7 488.5" stroke-width="1.73"/>
<path d="M432.3 413.7 427.4 410.8 M435.9 518.1 440.8 521.0" stroke-width="1.74"/>
<path d="M473.4 517.2 475.6 513.2 M466.9 454.3 463.5 448.2 M394.8 414.6 392.6 418.6 M401.3 477.5 404.7 483.6" stroke-width="1.77"/>
<path d="M469.4 459.5 466.3 453.2 M428.5 411.3 423.6 409.0 M398.8 472.3 401.9 478.6 M439.7 520.5 444.6 522.8" stroke-width="1.82"/>
<path d="M404.4 407.2 400.6 409.0 M463.8 524.6 467.6 522.8" stroke-width="1.83"/>
<path d="M471.6 464.7 468.9 458.4 M396.6 467.1 399.3 473.4" stroke-width="1.86"/>
<path d="M475.1 514.3 476.8 509.9 M393.1 417.5 391.4 421.9" stroke-width="1.88"/>
<path d="M473.5 469.9 471.1 463.6 M424.7 409.4 419.8 407.6 M394.7 461.9 397.1 468.2 M443.5 522.4 448.4 524.2" stroke-width="1.89"/>
<path d="M475.2 475.1 473.1 468.8 M393.0 456.7 395.1 463.0" stroke-width="1.92"/>
<path d="M407.3 406.5 403.2 407.6 M460.9 525.3 465.0 524.2" stroke-width="1.94"/>
<path d="M476.4 511.0 477.7 506.2 M476.5 480.2 474.8 473.9 M421.0 408.0 416.2 406.7 M391.8 420.8 390.5 425.6 M391.7 451.6 393.4 457.9 M447.2 523.8 452.0 525.1" stroke-width="1.95"/>
<path d="M477.5 485.2 476.2 479.0 M390.7 446.6 392.0 452.8" stroke-width="1.98"/>
<path d="M477.4 507.4 478.3 502.3 M390.8 424.4 389.9 429.5" stroke-width="1.99"/>
<path d="M478.2 490.1 477.3 484.0 M417.3 406.9 412.7 406.2 M390.0 441.7 390.9 447.8 M450.9 524.9 455.5 525.6" stroke-width="2.0"/>
<path d="M478.1 503.5 478.5 498.1 M478.5 494.8 478.0 488.9 M410.5 406.2 406.2 406.7 M390.1 428.3 389.7 433.7 M389.7 437.0 390.2 442.9 M457.7 525.6 462.0 525.1" stroke-width="2.01"/>
<path d="M478.5 499.3 478.4 493.6 M413.9 406.3 409.3 406.2 M389.7 432.5 389.8 438.2 M454.3 525.5 458.9 525.6" stroke-width="2.02"/>
<path d="M409.4 428.8 411.0 427.2 M402.2 414.2 400.6 415.8" stroke-width="0.74"/>
<path d="M408.7 418.1 406.5 415.8 M402.9 424.9 405.1 427.2" stroke-width="0.76"/>
<path d="M407.4 416.6 405.1 414.7 M404.2 426.4 406.5 428.3" stroke-width="0.81"/>
<path d="M409.8 419.9 407.9 417.2 M401.8 423.1 403.7 425.8" stroke-width="0.85"/>
<path d="M410.6 421.8 409.2 418.9 M406.1 415.4 403.6 414.2 M401.0 421.2 402.4 424.1 M405.5 427.6 408.0 428.8" stroke-width="0.92"/>
<path d="M410.4 428.2 411.3 425.9 M401.2 414.8 400.3 417.1" stroke-width="0.95"/>
<path d="M411.1 423.7 410.2 420.7 M400.5 419.3 401.4 422.3" stroke-width="0.97"/>
<path d="M403.5 414.1 401.2 414.7 M408.1 428.9 410.4 428.3" stroke-width="0.98"/>
<path d="M411.3 425.5 410.9 422.6 M404.7 414.5 402.3 414.2 M400.3 417.5 400.7 420.4 M406.9 428.5 409.3 428.8" stroke-width="1.01"/>
<path d="M411.0 427.0 411.2 424.3 M400.6 416.0 400.4 418.7" stroke-width="1.02"/>
<path d="M464.9 518.3 466.5 516.7 M457.7 503.7 456.1 505.3" stroke-width="0.74"/>
<path d="M464.2 507.6 462.0 505.3 M458.4 514.4 460.6 516.7" stroke-width="0.76"/>
<path d="M462.9 506.1 460.6 504.2 M459.7 515.9 462.0 517.8" stroke-width="0.81"/>
<path d="M465.3 509.4 463.4 506.7 M457.3 512.6 459.2 515.3" stroke-width="0.85"/>
<path d="M466.1 511.3 464.7 508.4 M461.6 504.9 459.1 503.7 M456.5 510.7 457.9 513.6 M461.0 517.1 463.5 518.3" stroke-width="0.92"/>
<path d="M465.9 517.7 466.8 515.4 M456.7 504.3 455.8 506.6" stroke-width="0.95"/>
<path d="M466.6 513.2 465.7 510.2 M456.0 508.8 456.9 511.8" stroke-width="0.97"/>
<path d="M459.0 503.6 456.7 504.2 M463.6 518.4 465.9 517.8" stroke-width="0.98"/>
<path d="M466.8 515.0 466.4 512.1 M460.2 504.0 457.8 503.7 M455.8 507.0 456.2 509.9 M462.4 518.0 464.8 518.3" stroke-width="1.01"/>
<path d="M466.5 516.5 466.7 513.8 M456.1 505.5 455.9 508.2" stroke-width="1.02"/>
<path d="M348.0 179.5 464.0 179.5" stroke-width="1.02"/>
<path d="M464.0 179.5 483.2 236.5" stroke-width="0.97"/>
<path d="M454.5 244.0 454.5 366.0" stroke-width="1.02"/>
<path d="M513.5 211.0 513.5 331.0" stroke-width="1.02"/>
<path d="M454.5 253.6 513.5 220.0" stroke-width="0.89"/>
<path d="M454.5 253.6 L465.3 245.3 L467.2 248.6 Z" fill="#000" stroke="#000" stroke-width="0.5"/>
<path d="M513.5 220.0 L502.7 228.3 L500.8 225.0 Z" fill="#000" stroke="#000" stroke-width="0.5"/>
<path d="M569.5 237.0 569.5 299.5" stroke-width="1.02"/>
<path d="M513.5 273.6 569.5 242.0" stroke-width="0.89"/>
<path d="M513.5 273.6 L524.3 265.3 L526.2 268.6 Z" fill="#000" stroke="#000" stroke-width="0.5"/>
<path d="M569.5 242.0 L558.7 250.3 L556.8 247.0 Z" fill="#000" stroke="#000" stroke-width="0.5"/>
<path d="M413.5 326.0 413.5 406.0" stroke-width="1.02"/>
<path d="M413.5 331.3 454.5 308.7" stroke-width="0.9"/>
<path d="M413.5 331.3 L424.4 323.1 L426.2 326.4 Z" fill="#000" stroke="#000" stroke-width="0.5"/>
<path d="M454.5 308.7 L443.6 316.9 L441.8 313.6 Z" fill="#000" stroke="#000" stroke-width="0.5"/>
<path d="M615.5 243.0 615.5 273.0" stroke-width="1.02"/>
<path d="M626.5 235.0 626.5 266.0" stroke-width="1.02"/>
<path d="M598.0 260.0 671.0 218.0" stroke-width="0.89"/>
<path d="M615.5 250.0 L604.8 258.4 L602.9 255.1 Z" fill="#000" stroke="#000" stroke-width="0.5"/>
<path d="M626.5 243.6 L637.2 235.2 L639.1 238.5 Z" fill="#000" stroke="#000" stroke-width="0.5"/>
<path d="M657.0 165.5 827.0 165.5" stroke-width="1.02"/>
<path d="M827.0 165.5 846.4 196.0" stroke-width="0.86"/>
<path d="M846.4 196.0 L837.6 185.6 L840.8 183.6 Z" fill="#000" stroke="#000" stroke-width="0.5"/>
<path d="M846.4 196.0 869.0 242.0" stroke-width="0.92"/>
<path d="M869.0 242.0 883.0 262.4" stroke-width="0.84"/>
<path d="M869.0 242.0 L878.2 252.1 L875.1 254.2 Z" fill="#000" stroke="#000" stroke-width="0.5"/>
<path d="M966.5 186.0 966.5 433.5" stroke-width="1.02"/>
<path d="M442.5 526.0 442.5 736.5" stroke-width="1.02"/>
<path d="M442.5 726.6 658.6 602.6" stroke-width="0.89"/>
<path d="M737.5 556.1 966.5 423.5" stroke-width="0.89"/>
<path d="M442.5 726.6 L453.2 718.2 L455.1 721.5 Z" fill="#000" stroke="#000" stroke-width="0.5"/>
<path d="M966.5 423.5 L955.8 431.9 L953.9 428.6 Z" fill="#000" stroke="#000" stroke-width="0.5"/>
<path d="M573.5 477.0 573.5 549.6" stroke-width="1.02"/>
<path d="M695.5 407.0 695.5 481.6" stroke-width="1.02"/>
<path d="M573.5 539.4 722.0 453.5" stroke-width="0.89"/>
<path d="M722.0 453.5 863.0 453.5" stroke-width="1.02"/>
<path d="M573.5 539.4 L584.2 531.0 L586.1 534.3 Z" fill="#000" stroke="#000" stroke-width="0.5"/>
<path d="M695.5 469.5 L684.8 477.9 L682.9 474.6 Z" fill="#000" stroke="#000" stroke-width="0.5"/>
<path d="M462.0 597.5 557.5 597.5" stroke-width="1.02"/>
<path d="M557.5 597.5 557.5 458.8" stroke-width="1.02"/>
<path d="M557.5 458.8 541.0 438.0" stroke-width="0.8"/>
<path d="M541.0 438.0 506.0 387.0" stroke-width="0.84"/>
<path d="M541.0 438.0 L550.4 447.8 L547.4 450.1 Z" fill="#000" stroke="#000" stroke-width="0.5"/>
<path d="M506.0 387.0 493.0 368.0" stroke-width="0.85"/>
<path d="M506.0 387.0 L496.8 376.9 L499.9 374.8 Z" fill="#000" stroke="#000" stroke-width="0.5"/>
<path d="M311.9 441.5 400.6 390.0" stroke-width="0.88"/>
<path d="M386.2 585.0 435.0 557.2" stroke-width="0.89"/>
<path d="M320.0 438.0 350.6 492.8" stroke-width="0.89"/>
<path d="M376.2 541.2 395.0 576.9" stroke-width="0.91"/>
<path d="M320.0 438.0 L328.2 448.9 L324.9 450.7 Z" fill="#000" stroke="#000" stroke-width="0.5"/>
<path d="M395.0 576.9 L387.0 565.8 L390.4 564.1 Z" fill="#000" stroke="#000" stroke-width="0.5"/>
</g>
<g class="t" style="will-change:transform">
<clipPath id="c1"><rect x="513.5" y="-33.5" width="184.9" height="93.9"/><rect x="513.5" y="60.3" width="134.1" height="23.8"/><rect x="658.0" y="60.3" width="4.3" height="23.8"/><rect x="674.5" y="60.3" width="4.2" height="23.8"/><rect x="686.6" y="60.3" width="11.8" height="23.8"/></clipPath>
<text y="64.50" font-size="49" clip-path="url(#c1)"><tspan x="530.87" textLength="19.83" lengthAdjust="spacingAndGlyphs">k</tspan><tspan x="555.57" textLength="20.66" lengthAdjust="spacingAndGlyphs">2</tspan><tspan x="576.91" textLength="23.15" lengthAdjust="spacingAndGlyphs">7</tspan><tspan x="600.53" textLength="22.90" lengthAdjust="spacingAndGlyphs">7</tspan><tspan x="624.96" textLength="23.08" lengthAdjust="spacingAndGlyphs" y="66.10">-</tspan><tspan x="647.97" textLength="22.89" lengthAdjust="spacingAndGlyphs" y="64.50">1</tspan><tspan x="664.68" textLength="22.38" lengthAdjust="spacingAndGlyphs">1</tspan></text>
<text y="170.50" font-size="49"><tspan x="369.72" textLength="21.95" lengthAdjust="spacingAndGlyphs">8</tspan><tspan x="395.07" textLength="22.26" lengthAdjust="spacingAndGlyphs" y="172.10">-</tspan><tspan x="420.71" textLength="22.43" lengthAdjust="spacingAndGlyphs" y="170.50">4</tspan><tspan x="446.96" textLength="21.08" lengthAdjust="spacingAndGlyphs">0</tspan></text>
<clipPath id="c2"><rect x="636.0" y="60.1" width="203.0" height="93.9"/><rect x="636.0" y="153.9" width="48.0" height="23.8"/><rect x="694.0" y="153.9" width="4.3" height="23.8"/><rect x="706.4" y="153.9" width="132.6" height="23.8"/></clipPath>
<text y="158.10" font-size="49" clip-path="url(#c2)"><tspan x="652.91" textLength="31.78" lengthAdjust="spacingAndGlyphs">M</tspan><tspan x="683.97" textLength="22.89" lengthAdjust="spacingAndGlyphs">1</tspan><tspan x="702.07" textLength="21.60" lengthAdjust="spacingAndGlyphs">6</tspan><tspan x="729.23" textLength="18.12" lengthAdjust="spacingAndGlyphs">x</tspan><tspan x="751.06" textLength="21.88" lengthAdjust="spacingAndGlyphs">2</tspan><tspan x="775.49" textLength="22.01" lengthAdjust="spacingAndGlyphs">0</tspan><tspan x="800.66" textLength="19.69" lengthAdjust="spacingAndGlyphs">0</tspan></text>
<clipPath id="c3"><rect x="514.0" y="134.5" width="75.4" height="93.9"/><rect x="514.0" y="228.3" width="41.0" height="23.8"/><rect x="565.4" y="228.3" width="4.3" height="23.8"/><rect x="577.8" y="228.3" width="11.6" height="23.8"/></clipPath>
<text y="232.50" font-size="49" clip-path="url(#c3)"><tspan x="532.06" textLength="21.88" lengthAdjust="spacingAndGlyphs">2</tspan><tspan x="555.37" textLength="22.89" lengthAdjust="spacingAndGlyphs">1</tspan></text>
<text y="224.90" font-size="49"><tspan x="631.53" textLength="21.02" lengthAdjust="spacingAndGlyphs">5</tspan></text>
<clipPath id="c4"><rect x="373.1" y="211.2" width="75.4" height="93.9"/><rect x="373.1" y="305.1" width="17.0" height="23.8"/><rect x="400.0" y="305.1" width="4.3" height="23.8"/><rect x="412.4" y="305.1" width="36.1" height="23.8"/></clipPath>
<text y="309.25" font-size="49" clip-path="url(#c4)"><tspan x="389.97" textLength="22.89" lengthAdjust="spacingAndGlyphs">1</tspan><tspan x="408.33" textLength="21.83" lengthAdjust="spacingAndGlyphs">8</tspan></text>
<text y="534.50" font-size="49"><tspan class="dia" font-size="33.5" x="320.36" y="529.50" textLength="29.61" lengthAdjust="spacingAndGlyphs">Ø</tspan><tspan x="359.11" textLength="21.26" lengthAdjust="spacingAndGlyphs" y="534.50">5</tspan><tspan x="384.22" textLength="20.27" lengthAdjust="spacingAndGlyphs">0</tspan></text>
<clipPath id="c5"><rect x="447.5" y="488.5" width="113.5" height="93.9"/><rect x="447.5" y="582.3" width="54.5" height="23.8"/><rect x="512.0" y="582.3" width="4.3" height="23.8"/><rect x="524.4" y="582.3" width="36.6" height="23.8"/></clipPath>
<text y="586.50" font-size="49" clip-path="url(#c5)"><tspan class="dia" font-size="33.5" x="465.28" y="581.80" textLength="29.37" lengthAdjust="spacingAndGlyphs">Ø</tspan><tspan x="501.97" textLength="22.89" lengthAdjust="spacingAndGlyphs" y="586.50">1</tspan><tspan x="520.29" textLength="22.42" lengthAdjust="spacingAndGlyphs">8</tspan></text>
<clipPath id="c6"><rect x="716.2" y="346.5" width="152.6" height="93.9"/><rect x="716.2" y="440.3" width="118.3" height="23.8"/><rect x="844.8" y="440.3" width="4.3" height="23.8"/><rect x="857.2" y="440.3" width="11.6" height="23.8"/></clipPath>
<text y="444.50" font-size="49" clip-path="url(#c6)"><tspan x="734.31" textLength="21.39" lengthAdjust="spacingAndGlyphs">2</tspan><tspan x="759.07" textLength="21.60" lengthAdjust="spacingAndGlyphs">6</tspan><tspan x="782.96" textLength="23.08" lengthAdjust="spacingAndGlyphs" y="446.10">-</tspan><tspan x="809.63" textLength="22.10" lengthAdjust="spacingAndGlyphs" y="444.50">4</tspan><tspan x="834.77" textLength="22.89" lengthAdjust="spacingAndGlyphs">1</tspan></text>
<text y="596.10" font-size="49"><tspan x="662.06" textLength="21.88" lengthAdjust="spacingAndGlyphs">2</tspan><tspan x="687.18" textLength="20.85" lengthAdjust="spacingAndGlyphs">0</tspan><tspan x="712.07" textLength="20.43" lengthAdjust="spacingAndGlyphs">5</tspan></text>
<text y="742.30" font-size="44"><tspan font-size="59" x="590.93" textLength="18.43" lengthAdjust="spacingAndGlyphs">в</tspan> <tspan font-size="40.5" x="626.49" textLength="15.91" lengthAdjust="spacingAndGlyphs">с</tspan><tspan font-size="40.5" x="645.67" textLength="20.55" lengthAdjust="spacingAndGlyphs">т</tspan><tspan font-size="40.5" x="669.10" textLength="16.26" lengthAdjust="spacingAndGlyphs">е</tspan><tspan font-size="40.5" x="687.06" textLength="15.42" lengthAdjust="spacingAndGlyphs">к</tspan><tspan font-size="40.5" x="705.29" textLength="15.96" lengthAdjust="spacingAndGlyphs">л</tspan><tspan font-size="40.5" x="723.58" textLength="16.50" lengthAdjust="spacingAndGlyphs">е</tspan> <tspan font-size="40.5" x="756.82" textLength="16.16" lengthAdjust="spacingAndGlyphs">о</tspan><tspan font-size="40.5" x="775.77" textLength="20.66" lengthAdjust="spacingAndGlyphs">т</tspan><tspan font-size="59" x="798.73" textLength="17.67" lengthAdjust="spacingAndGlyphs">в</tspan><tspan x="816.05" textLength="9.10" lengthAdjust="spacingAndGlyphs">.</tspan> <tspan x="842.27" textLength="17.34" lengthAdjust="spacingAndGlyphs">Ø</tspan><tspan x="864.37" textLength="17.03" lengthAdjust="spacingAndGlyphs">3</tspan><tspan x="884.25" textLength="16.89" lengthAdjust="spacingAndGlyphs">0</tspan></text>
</g>
</svg>
</body></html>
